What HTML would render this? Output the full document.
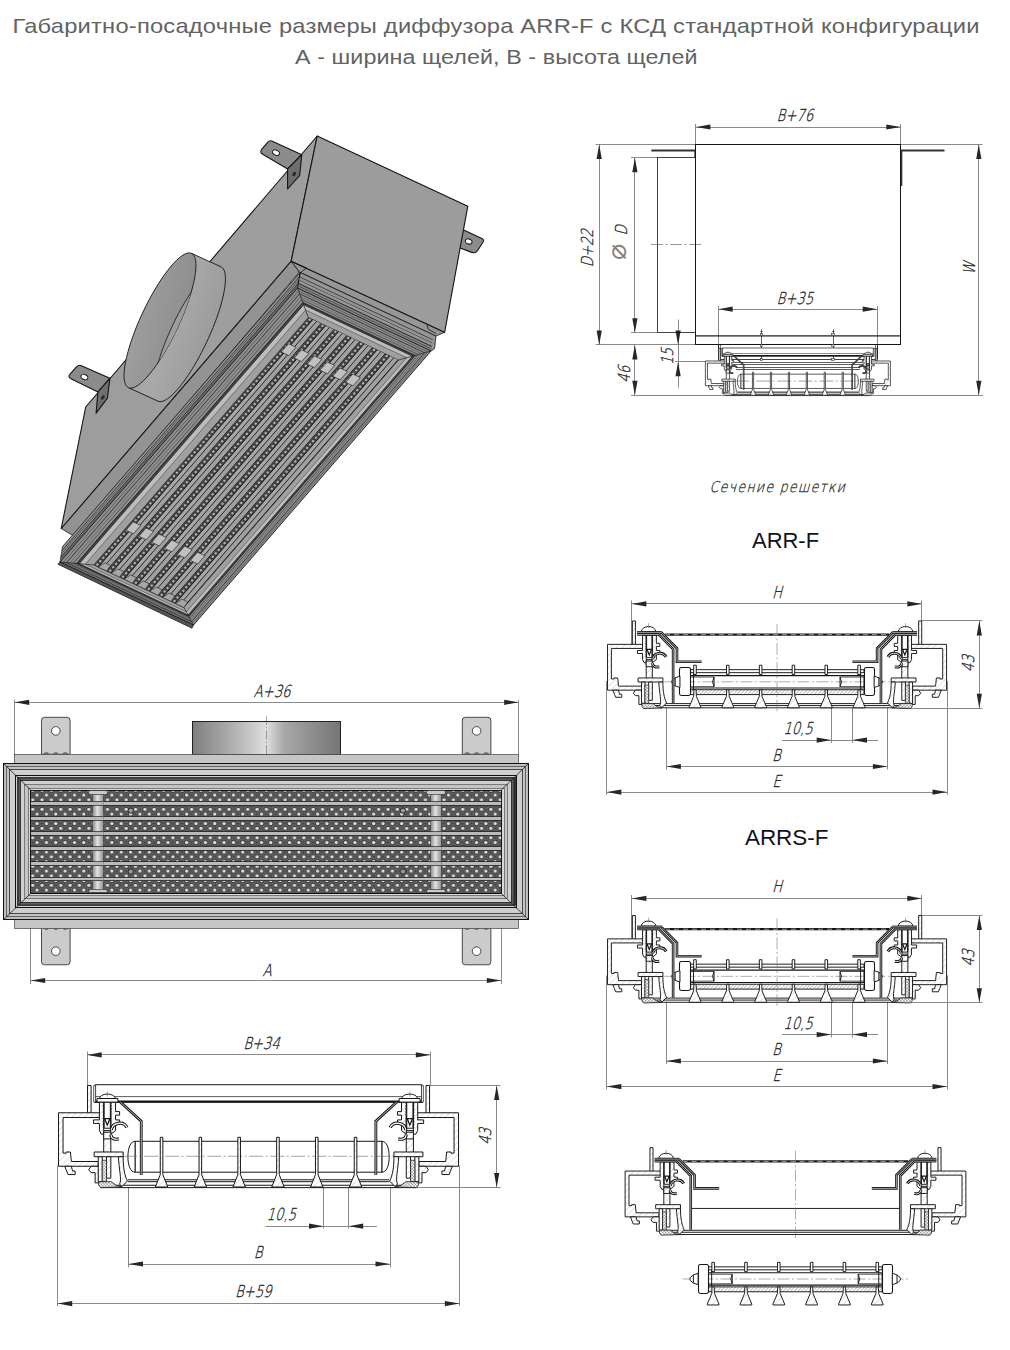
<!DOCTYPE html>
<html lang="ru"><head><meta charset="utf-8"><title>ARR-F</title>
<style>
html,body{margin:0;padding:0;background:#fff}
body{width:1010px;height:1350px;overflow:hidden;position:relative;font-family:"Liberation Sans",sans-serif}
svg{position:absolute;left:0;top:0;display:block}
.t{font-family:"Liberation Sans",sans-serif;fill:#636363}
.h{font-family:"Liberation Sans",sans-serif;fill:#12121c}
.g{font-family:"DejaVu Sans Light","DejaVu Sans","Liberation Sans",sans-serif;font-weight:200}
</style></head><body>
<svg width="1010" height="1350" viewBox="0 0 1010 1350">
<text class="t" transform="translate(12.5 33) scale(1.13 1)" font-size="21" textLength="855.8" lengthAdjust="spacing">Габаритно-посадочные размеры диффузора ARR-F с КСД стандартной конфигурации</text>
<text class="t" transform="translate(295 64) scale(1.11 1)" font-size="21" textLength="362.6" lengthAdjust="spacing">А - ширина щелей, В - высота щелей</text>
<g id="iso" stroke-linejoin="round">
<path d="M262.74 154.24 Q259.3 152.2 261.88 149.14 L267.66 142.29 Q269.6 140 272.33 141.25 L301.8 154.7 L287.6 169 Z" fill="#8b8b8b" stroke="#141414" stroke-width="1.1" />
<ellipse cx="276" cy="152.7" rx="3.6" ry="2.5" transform="rotate(25 276 152.7)" fill="#fff" stroke="#141414" stroke-width="0.9"/>
<path d="M70.99 378.77 Q67.4 377 70.08 374.03 L76.69 366.73 Q78.7 364.5 81.44 365.71 L109.9 378.3 L97.9 392 Z" fill="#8b8b8b" stroke="#141414" stroke-width="1.1" />
<ellipse cx="84.4" cy="377" rx="3.6" ry="2.5" transform="rotate(25 84.4 377)" fill="#fff" stroke="#141414" stroke-width="0.9"/>
<path d="M462.7 229.4 L481.79 238.42 Q484.5 239.7 482.89 242.23 L477.65 250.43 Q475.5 253.8 471.76 252.37 L458.8 247.4 Z" fill="#8b8b8b" stroke="#141414" stroke-width="1.1" />
<ellipse cx="468.7" cy="241.5" rx="3.4" ry="2.4" transform="rotate(22 468.7 241.5)" fill="#fff" stroke="#141414" stroke-width="0.9"/>
<polygon points="61.2,528.5 291.2,261.2 299.4,272 73.7,536" fill="#939393" stroke="#141414" stroke-width="0.8" />
<polygon points="291.2,261.2 444.6,332.3 435.9,336.1 299.4,272" fill="#969696" stroke="#141414" stroke-width="0.8" />
<defs><linearGradient id="gs" x1="0" y1="0" x2="1" y2="1"><stop offset="0" stop-color="#9a9a9a"/><stop offset="1" stop-color="#a1a1a1"/></linearGradient></defs>
<polygon points="317.2,136 85.7,407 61.2,528.5 291.2,261.2" fill="url(#gs)" stroke="#141414" stroke-width="1.1" />
<polygon points="317.2,136 467.8,206.2 444.6,332.3 291.2,261.2" fill="#9c9c9c" stroke="#141414" stroke-width="1.1" />
<polygon points="301.8,154.7 299.7,175.3 287.6,189 287.6,168.9" fill="#6e6e6e" stroke="#141414" stroke-width="1.1" />
<ellipse cx="294.18" cy="173.97" rx="1.6" ry="2.4" transform="rotate(35 294.18 173.97)" fill="#2a2a2a"/>
<polygon points="109.9,378.3 107.4,398.2 96.1,413.2 97.9,392" fill="#6e6e6e" stroke="#141414" stroke-width="1.1" />
<ellipse cx="102.83" cy="397.43" rx="1.6" ry="2.4" transform="rotate(35 102.83 397.43)" fill="#2a2a2a"/>
<polyline points="291.2,261.2 306.5,268 300.5,272.5" fill="none" stroke="#141414" stroke-width="0.8" />
<polyline points="427,324.9 428.5,329.5 436,333.5" fill="none" stroke="#141414" stroke-width="0.8" />
<defs><linearGradient id="gd" x1="0" y1="0" x2="1" y2="0.5"><stop offset="0" stop-color="#8f8f8f"/><stop offset="0.55" stop-color="#a9a9a9"/><stop offset="1" stop-color="#999"/></linearGradient><linearGradient id="gi" x1="0" y1="0" x2="1" y2="0.4"><stop offset="0" stop-color="#a4a4a4"/><stop offset="1" stop-color="#8d8d8d"/></linearGradient><clipPath id="cf"><polygon points="171.35,265.9 169.55,268.06 167.72,270.37 165.88,272.81 164.01,275.39 162.14,278.09 160.26,280.9 158.38,283.83 156.5,286.85 154.63,289.97 152.78,293.17 150.95,296.44 149.14,299.78 147.36,303.18 145.62,306.62 143.91,310.11 142.25,313.62 140.64,317.15 139.08,320.69 137.58,324.23 136.14,327.75 134.77,331.26 133.46,334.74 132.23,338.18 131.08,341.57 130,344.91 129,348.18 128.1,351.37 127.27,354.47 126.54,357.49 125.9,360.4 125.35,363.2 124.9,365.89 124.54,368.45 124.29,370.88 124.12,373.17 124.06,375.32 124.1,377.32 124.23,379.16 124.46,380.84 124.79,382.35 125.22,383.7 125.74,384.87 126.36,385.87 127.06,386.69 127.86,387.32 128.75,387.77 129.72,388.04 130.77,388.12 131.91,388.02 133.12,387.73 134.41,387.26 135.76,386.61 137.18,385.77 138.67,384.76 140.21,383.57 141.81,382.2 143.46,380.67 145.15,378.97 146.88,377.11 148.65,375.1 150.45,372.94 152.28,370.63 154.12,368.19 155.99,365.61 157.86,362.91 159.74,360.1 161.62,357.17 163.5,354.15 165.37,351.03 167.22,347.83 169.05,344.56 170.86,341.22 172.64,337.82 174.38,334.38 176.09,330.89 177.75,327.38 179.36,323.85 180.92,320.31 182.42,316.77 183.86,313.25 185.23,309.74 186.54,306.26 187.77,302.82 188.92,299.43 190,296.09 191,292.82 191.9,289.63 192.73,286.53 193.46,283.51 194.1,280.6 194.65,277.8 195.1,275.11 195.46,272.55 195.71,270.12 195.88,267.83 195.94,265.68 195.9,263.68 195.77,261.84 195.54,260.16 195.21,258.65 194.78,257.3 194.26,256.13 193.64,255.13 192.94,254.31 192.14,253.68 191.25,253.23 190.28,252.96 189.23,252.88 188.09,252.98 186.88,253.27 185.59,253.74 184.24,254.39 182.82,255.23 181.33,256.24 179.79,257.43 178.19,258.8 176.54,260.33 174.85,262.03 173.12,263.89 171.35,265.9"/></clipPath></defs>
<polygon points="158,401.17 158.95,401.49 159.98,401.62 161.1,401.57 162.29,401.33 163.56,400.91 164.89,400.3 166.3,399.51 167.77,398.55 169.29,397.4 170.88,396.08 172.51,394.59 174.19,392.94 175.92,391.12 177.67,389.15 179.47,387.03 181.29,384.76 183.13,382.35 184.99,379.81 186.86,377.14 188.74,374.36 190.62,371.46 192.5,368.47 194.37,365.37 196.23,362.2 198.07,358.94 199.88,355.62 201.67,352.23 203.42,348.8 205.14,345.33 206.81,341.82 208.43,338.3 210.01,334.76 211.52,331.22 212.98,327.69 214.37,324.17 215.69,320.68 216.95,317.23 218.12,313.82 219.22,310.47 220.24,307.19 221.17,303.98 222.02,300.85 222.77,297.81 223.44,294.87 224.01,292.03 224.49,289.32 224.87,286.72 225.16,284.25 225.34,281.93 225.43,279.74 225.42,277.7 225.31,275.82 225.11,274.09 224.8,272.53 224.4,271.14 223.91,269.92 223.32,268.88 222.63,268.01 221.86,267.33 221,266.83 191.5,253.33 190.55,253.01 189.52,252.88 188.4,252.93 187.21,253.17 185.94,253.59 184.61,254.2 183.2,254.99 181.73,255.95 180.21,257.1 178.62,258.42 176.99,259.91 175.31,261.56 173.58,263.38 171.83,265.35 170.03,267.47 168.21,269.74 166.37,272.15 164.51,274.69 162.64,277.36 160.76,280.14 158.88,283.04 157,286.03 155.13,289.13 153.27,292.3 151.43,295.56 149.62,298.88 147.83,302.27 146.08,305.7 144.36,309.17 142.69,312.68 141.07,316.2 139.49,319.74 137.98,323.28 136.52,326.81 135.13,330.33 133.81,333.82 132.55,337.27 131.38,340.68 130.28,344.03 129.26,347.31 128.33,350.52 127.48,353.65 126.73,356.69 126.06,359.63 125.49,362.47 125.01,365.18 124.63,367.78 124.34,370.25 124.16,372.57 124.07,374.76 124.08,376.8 124.19,378.68 124.39,380.41 124.7,381.97 125.1,383.36 125.59,384.58 126.18,385.62 126.87,386.49 127.64,387.17 128.5,387.67" fill="url(#gd)" stroke="none" stroke-width="0" />
<polyline points="158,401.17 158.95,401.49 159.98,401.62 161.1,401.57 162.29,401.33 163.56,400.91 164.89,400.3 166.3,399.51 167.77,398.55 169.29,397.4 170.88,396.08 172.51,394.59 174.19,392.94 175.92,391.12 177.67,389.15 179.47,387.03 181.29,384.76 183.13,382.35 184.99,379.81 186.86,377.14 188.74,374.36 190.62,371.46 192.5,368.47 194.37,365.37 196.23,362.2 198.07,358.94 199.88,355.62 201.67,352.23 203.42,348.8 205.14,345.33 206.81,341.82 208.43,338.3 210.01,334.76 211.52,331.22 212.98,327.69 214.37,324.17 215.69,320.68 216.95,317.23 218.12,313.82 219.22,310.47 220.24,307.19 221.17,303.98 222.02,300.85 222.77,297.81 223.44,294.87 224.01,292.03 224.49,289.32 224.87,286.72 225.16,284.25 225.34,281.93 225.43,279.74 225.42,277.7 225.31,275.82 225.11,274.09 224.8,272.53 224.4,271.14 223.91,269.92 223.32,268.88 222.63,268.01 221.86,267.33 221,266.83" fill="none" stroke="#141414" stroke-width="0.9" />
<line x1="128.5" y1="387.67" x2="158" y2="401.17" stroke="#141414" stroke-width="0.9" />
<line x1="191.5" y1="253.33" x2="221" y2="266.83" stroke="#141414" stroke-width="0.9" />
<polygon points="171.35,265.9 169.55,268.06 167.72,270.37 165.88,272.81 164.01,275.39 162.14,278.09 160.26,280.9 158.38,283.83 156.5,286.85 154.63,289.97 152.78,293.17 150.95,296.44 149.14,299.78 147.36,303.18 145.62,306.62 143.91,310.11 142.25,313.62 140.64,317.15 139.08,320.69 137.58,324.23 136.14,327.75 134.77,331.26 133.46,334.74 132.23,338.18 131.08,341.57 130,344.91 129,348.18 128.1,351.37 127.27,354.47 126.54,357.49 125.9,360.4 125.35,363.2 124.9,365.89 124.54,368.45 124.29,370.88 124.12,373.17 124.06,375.32 124.1,377.32 124.23,379.16 124.46,380.84 124.79,382.35 125.22,383.7 125.74,384.87 126.36,385.87 127.06,386.69 127.86,387.32 128.75,387.77 129.72,388.04 130.77,388.12 131.91,388.02 133.12,387.73 134.41,387.26 135.76,386.61 137.18,385.77 138.67,384.76 140.21,383.57 141.81,382.2 143.46,380.67 145.15,378.97 146.88,377.11 148.65,375.1 150.45,372.94 152.28,370.63 154.12,368.19 155.99,365.61 157.86,362.91 159.74,360.1 161.62,357.17 163.5,354.15 165.37,351.03 167.22,347.83 169.05,344.56 170.86,341.22 172.64,337.82 174.38,334.38 176.09,330.89 177.75,327.38 179.36,323.85 180.92,320.31 182.42,316.77 183.86,313.25 185.23,309.74 186.54,306.26 187.77,302.82 188.92,299.43 190,296.09 191,292.82 191.9,289.63 192.73,286.53 193.46,283.51 194.1,280.6 194.65,277.8 195.1,275.11 195.46,272.55 195.71,270.12 195.88,267.83 195.94,265.68 195.9,263.68 195.77,261.84 195.54,260.16 195.21,258.65 194.78,257.3 194.26,256.13 193.64,255.13 192.94,254.31 192.14,253.68 191.25,253.23 190.28,252.96 189.23,252.88 188.09,252.98 186.88,253.27 185.59,253.74 184.24,254.39 182.82,255.23 181.33,256.24 179.79,257.43 178.19,258.8 176.54,260.33 174.85,262.03 173.12,263.89 171.35,265.9" fill="url(#gi)" stroke="#141414" stroke-width="0.9" />
<polygon points="200.85,279.4 199.05,281.56 197.22,283.87 195.38,286.31 193.51,288.89 191.64,291.59 189.76,294.4 187.88,297.33 186,300.35 184.13,303.47 182.28,306.67 180.45,309.94 178.64,313.28 176.86,316.68 175.12,320.12 173.41,323.61 171.75,327.12 170.14,330.65 168.58,334.19 167.08,337.73 165.64,341.25 164.27,344.76 162.96,348.24 161.73,351.68 160.58,355.07 159.5,358.41 158.5,361.68 157.6,364.87 156.77,367.97 156.04,370.99 155.4,373.9 154.85,376.7 154.4,379.39 154.04,381.95 153.79,384.38 153.62,386.67 153.56,388.82 153.6,390.82 153.73,392.66 153.96,394.34 154.29,395.85 154.72,397.2 155.24,398.37 155.86,399.37 156.56,400.19 157.36,400.82 158.25,401.27 159.22,401.54 160.27,401.62 161.41,401.52 162.62,401.23 163.91,400.76 165.26,400.11 166.68,399.27 168.17,398.26 169.71,397.07 171.31,395.7 172.96,394.17 174.65,392.47 176.38,390.61 178.15,388.6 179.95,386.44 181.78,384.13 183.62,381.69 185.49,379.11 187.36,376.41 189.24,373.6 191.12,370.67 193,367.65 194.87,364.53 196.72,361.33 198.55,358.06 200.36,354.72 202.14,351.32 203.88,347.88 205.59,344.39 207.25,340.88 208.86,337.35 210.42,333.81 211.92,330.27 213.36,326.75 214.73,323.24 216.04,319.76 217.27,316.32 218.42,312.93 219.5,309.59 220.5,306.32 221.4,303.13 222.23,300.03 222.96,297.01 223.6,294.1 224.15,291.3 224.6,288.61 224.96,286.05 225.21,283.62 225.38,281.33 225.44,279.18 225.4,277.18 225.27,275.34 225.04,273.66 224.71,272.15 224.28,270.8 223.76,269.63 223.14,268.63 222.44,267.81 221.64,267.18 220.75,266.73 219.78,266.46 218.73,266.38 217.59,266.48 216.38,266.77 215.09,267.24 213.74,267.89 212.32,268.73 210.83,269.74 209.29,270.93 207.69,272.3 206.04,273.83 204.35,275.53 202.62,277.39 200.85,279.4" fill="#9d9d9d" stroke="#141414" stroke-width="0.8" clip-path="url(#cf)"/>
<polygon points="297.5,288 431,351 434.6,348.6 435.9,336.1 300.1,272.5" fill="#969696" stroke="#141414" stroke-width="0.8" />
<polygon points="60,562 297.5,288 300.1,272.5 62.6,546.5" fill="#939393" stroke="#141414" stroke-width="0.8" />
<polygon points="299.37,276.84 432.87,339.84 432.35,342.94 298.85,279.94" fill="#a9a9a9" stroke="none" stroke-width="0" />
<polygon points="61.87,550.84 299.37,276.84 298.85,279.94 61.35,553.94" fill="#a6a6a6" stroke="none" stroke-width="0" />
<polygon points="298.28,283.35 431.78,346.35 431,351 297.5,288" fill="#868686" stroke="none" stroke-width="0" />
<polygon points="60.78,557.35 298.28,283.35 297.5,288 60,562" fill="#848484" stroke="none" stroke-width="0" />
<line x1="61.87" y1="550.84" x2="299.37" y2="276.84" stroke="#222" stroke-width="0.8" />
<line x1="299.37" y1="276.84" x2="432.87" y2="339.84" stroke="#222" stroke-width="0.8" />
<line x1="61.61" y1="552.39" x2="299.11" y2="278.39" stroke="#6a6a6a" stroke-width="0.5" />
<line x1="299.11" y1="278.39" x2="432.61" y2="341.39" stroke="#6a6a6a" stroke-width="0.5" />
<line x1="61.35" y1="553.94" x2="298.85" y2="279.94" stroke="#333" stroke-width="0.7" />
<line x1="298.85" y1="279.94" x2="432.35" y2="342.94" stroke="#333" stroke-width="0.7" />
<line x1="60.78" y1="557.35" x2="298.28" y2="283.35" stroke="#1c1c1c" stroke-width="0.9" />
<line x1="298.28" y1="283.35" x2="431.78" y2="346.35" stroke="#1c1c1c" stroke-width="0.9" />
<line x1="60.36" y1="559.83" x2="297.86" y2="285.83" stroke="#3c3c3c" stroke-width="0.7" />
<line x1="297.86" y1="285.83" x2="431.36" y2="348.83" stroke="#3c3c3c" stroke-width="0.7" />
<line x1="297.5" y1="288" x2="300.1" y2="272.5" stroke="#141414" stroke-width="0.8" />
<polygon points="297.5,288 431,351 193.5,625 60,562" fill="#8e8e8e" stroke="#141414" stroke-width="0.9" />
<polygon points="60,562 193.5,625 192,628.2 57.8,564.2" fill="#555" stroke="#141414" stroke-width="0.7" />
<polygon points="298.57,290.9 427.8,351.89 192.56,623.28 63.33,562.29" fill="none" stroke="#4a4a4a" stroke-width="0.7" />
<polygon points="299.63,293.8 424.6,352.77 191.62,621.56 66.65,562.59" fill="none" stroke="#2e2e2e" stroke-width="0.9" />
<polygon points="300.7,296.7 421.4,353.66 190.67,619.84 69.98,562.88" fill="none" stroke="#555" stroke-width="0.6" />
<polygon points="301.77,299.6 418.19,354.55 189.73,618.12 73.3,563.18" fill="none" stroke="#3a3a3a" stroke-width="0.7" />
<polygon points="302.83,302.5 414.99,355.43 188.79,616.4 76.63,563.47" fill="#444" stroke="#141414" stroke-width="0.8" />
<polygon points="303.69,304.82 412.43,356.14 188.04,615.02 79.29,563.7" fill="#bcbcbc" stroke="#222" stroke-width="0.7" />
<polygon points="305.61,310.04 406.67,357.74 186.34,611.93 85.28,564.23" fill="#a0a0a0" stroke="#444" stroke-width="0.6" />
<polygon points="308.38,317.58 398.35,360.04 183.89,607.45 93.92,565" fill="#7d7d7d" stroke="#1c1c1c" stroke-width="0.8" />
<line x1="297.5" y1="288" x2="308.38" y2="317.58" stroke="#222" stroke-width="0.7" />
<line x1="431" y1="351" x2="398.35" y2="360.04" stroke="#222" stroke-width="0.7" />
<line x1="193.5" y1="625" x2="183.89" y2="607.45" stroke="#222" stroke-width="0.7" />
<line x1="60" y1="562" x2="93.92" y2="565" stroke="#222" stroke-width="0.7" />
<polygon points="308.38,317.58 312.75,319.65 98.29,567.06 93.92,565" fill="#414141" stroke="none" stroke-width="0" />
<line x1="309.66" y1="319.66" x2="97.01" y2="564.99" stroke="#b4b4b4" stroke-width="2.3" stroke-dasharray="0.1 4.4" stroke-linecap="round"/>
<polygon points="312.75,319.65 316.48,321.41 102.02,568.82 98.29,567.06" fill="#a7a7a7" stroke="none" stroke-width="0" />
<polygon points="316.48,321.41 321.23,323.65 106.78,571.06 102.02,568.82" fill="#a0a0a0" stroke="none" stroke-width="0" />
<line x1="312.75" y1="319.65" x2="98.29" y2="567.06" stroke="#141414" stroke-width="0.95" />
<line x1="316.48" y1="321.41" x2="102.02" y2="568.82" stroke="#141414" stroke-width="0.85" />
<line x1="320.89" y1="323.49" x2="106.44" y2="570.9" stroke="#141414" stroke-width="0.95" />
<polygon points="321.23,323.65 325.6,325.71 111.15,573.13 106.78,571.06" fill="#414141" stroke="none" stroke-width="0" />
<line x1="322.51" y1="325.72" x2="109.87" y2="571.05" stroke="#b4b4b4" stroke-width="2.3" stroke-dasharray="0.1 4.4" stroke-linecap="round"/>
<polygon points="325.6,325.71 329.33,327.47 114.87,574.88 111.15,573.13" fill="#a7a7a7" stroke="none" stroke-width="0" />
<polygon points="329.33,327.47 334.08,329.71 119.63,577.13 114.87,574.88" fill="#a0a0a0" stroke="none" stroke-width="0" />
<line x1="325.6" y1="325.71" x2="111.15" y2="573.13" stroke="#141414" stroke-width="0.95" />
<line x1="329.33" y1="327.47" x2="114.87" y2="574.88" stroke="#141414" stroke-width="0.85" />
<line x1="333.74" y1="329.55" x2="119.29" y2="576.97" stroke="#141414" stroke-width="0.95" />
<polygon points="334.08,329.71 338.45,331.78 124,579.19 119.63,577.13" fill="#414141" stroke="none" stroke-width="0" />
<line x1="335.37" y1="331.79" x2="122.72" y2="577.12" stroke="#b4b4b4" stroke-width="2.3" stroke-dasharray="0.1 4.4" stroke-linecap="round"/>
<polygon points="338.45,331.78 342.18,333.54 127.73,580.95 124,579.19" fill="#a7a7a7" stroke="none" stroke-width="0" />
<polygon points="342.18,333.54 346.94,335.78 132.48,583.19 127.73,580.95" fill="#a0a0a0" stroke="none" stroke-width="0" />
<line x1="338.45" y1="331.78" x2="124" y2="579.19" stroke="#141414" stroke-width="0.95" />
<line x1="342.18" y1="333.54" x2="127.73" y2="580.95" stroke="#141414" stroke-width="0.85" />
<line x1="346.6" y1="335.62" x2="132.14" y2="583.03" stroke="#141414" stroke-width="0.95" />
<polygon points="346.94,335.78 351.31,337.84 136.85,585.26 132.48,583.19" fill="#414141" stroke="none" stroke-width="0" />
<line x1="348.22" y1="337.85" x2="135.57" y2="583.18" stroke="#b4b4b4" stroke-width="2.3" stroke-dasharray="0.1 4.4" stroke-linecap="round"/>
<polygon points="351.31,337.84 355.03,339.6 140.58,587.01 136.85,585.26" fill="#a7a7a7" stroke="none" stroke-width="0" />
<polygon points="355.03,339.6 359.79,341.85 145.33,589.26 140.58,587.01" fill="#a0a0a0" stroke="none" stroke-width="0" />
<line x1="351.31" y1="337.84" x2="136.85" y2="585.26" stroke="#141414" stroke-width="0.95" />
<line x1="355.03" y1="339.6" x2="140.58" y2="587.01" stroke="#141414" stroke-width="0.85" />
<line x1="359.45" y1="341.68" x2="144.99" y2="589.1" stroke="#141414" stroke-width="0.95" />
<polygon points="359.79,341.85 364.16,343.91 149.7,591.32 145.33,589.26" fill="#414141" stroke="none" stroke-width="0" />
<line x1="361.07" y1="343.92" x2="148.42" y2="589.25" stroke="#b4b4b4" stroke-width="2.3" stroke-dasharray="0.1 4.4" stroke-linecap="round"/>
<polygon points="364.16,343.91 367.89,345.67 153.43,593.08 149.7,591.32" fill="#a7a7a7" stroke="none" stroke-width="0" />
<polygon points="367.89,345.67 372.64,347.91 158.19,595.32 153.43,593.08" fill="#a0a0a0" stroke="none" stroke-width="0" />
<line x1="364.16" y1="343.91" x2="149.7" y2="591.32" stroke="#141414" stroke-width="0.95" />
<line x1="367.89" y1="345.67" x2="153.43" y2="593.08" stroke="#141414" stroke-width="0.85" />
<line x1="372.3" y1="347.75" x2="157.85" y2="595.16" stroke="#141414" stroke-width="0.95" />
<polygon points="372.64,347.91 377.01,349.97 162.56,597.39 158.19,595.32" fill="#414141" stroke="none" stroke-width="0" />
<line x1="373.92" y1="349.98" x2="161.28" y2="595.31" stroke="#b4b4b4" stroke-width="2.3" stroke-dasharray="0.1 4.4" stroke-linecap="round"/>
<polygon points="377.01,349.97 380.74,351.73 166.28,599.14 162.56,597.39" fill="#a7a7a7" stroke="none" stroke-width="0" />
<polygon points="380.74,351.73 385.49,353.98 171.04,601.39 166.28,599.14" fill="#a0a0a0" stroke="none" stroke-width="0" />
<line x1="377.01" y1="349.97" x2="162.56" y2="597.39" stroke="#141414" stroke-width="0.95" />
<line x1="380.74" y1="351.73" x2="166.28" y2="599.14" stroke="#141414" stroke-width="0.85" />
<line x1="385.15" y1="353.81" x2="170.7" y2="601.23" stroke="#141414" stroke-width="0.95" />
<polygon points="385.49,353.98 389.86,356.04 175.41,603.45 171.04,601.39" fill="#414141" stroke="none" stroke-width="0" />
<line x1="386.78" y1="356.05" x2="174.13" y2="601.38" stroke="#b4b4b4" stroke-width="2.3" stroke-dasharray="0.1 4.4" stroke-linecap="round"/>
<polygon points="389.86,356.04 393.59,357.8 179.14,605.21 175.41,603.45" fill="#a7a7a7" stroke="none" stroke-width="0" />
<polygon points="393.59,357.8 398.35,360.04 183.89,607.45 179.14,605.21" fill="#a0a0a0" stroke="none" stroke-width="0" />
<line x1="389.86" y1="356.04" x2="175.41" y2="603.45" stroke="#141414" stroke-width="0.95" />
<line x1="393.59" y1="357.8" x2="179.14" y2="605.21" stroke="#141414" stroke-width="0.85" />
<line x1="398.01" y1="359.88" x2="183.55" y2="607.29" stroke="#141414" stroke-width="0.95" />
<polygon points="288.55,343.69 296.04,347.23 288.81,355.57 281.32,352.03" fill="#c0c0c0" stroke="#2a2a2a" stroke-width="0.7" />
<polygon points="301.4,349.76 308.89,353.29 301.66,361.63 294.17,358.1" fill="#c0c0c0" stroke="#2a2a2a" stroke-width="0.7" />
<polygon points="314.26,355.82 321.75,359.36 314.52,367.7 307.03,364.17" fill="#c0c0c0" stroke="#2a2a2a" stroke-width="0.7" />
<polygon points="327.11,361.89 334.6,365.42 327.37,373.77 319.88,370.23" fill="#c0c0c0" stroke="#2a2a2a" stroke-width="0.7" />
<polygon points="339.96,367.95 347.45,371.49 340.22,379.83 332.73,376.3" fill="#c0c0c0" stroke="#2a2a2a" stroke-width="0.7" />
<polygon points="352.81,374.02 360.3,377.55 353.07,385.9 345.58,382.36" fill="#c0c0c0" stroke="#2a2a2a" stroke-width="0.7" />
<polygon points="133.22,521.85 140.72,525.39 133.49,533.73 125.99,530.19" fill="#c0c0c0" stroke="#2a2a2a" stroke-width="0.7" />
<polygon points="146.08,527.92 153.57,531.45 146.34,539.79 138.85,536.26" fill="#c0c0c0" stroke="#2a2a2a" stroke-width="0.7" />
<polygon points="158.93,533.98 166.42,537.52 159.19,545.86 151.7,542.32" fill="#c0c0c0" stroke="#2a2a2a" stroke-width="0.7" />
<polygon points="171.78,540.05 179.27,543.58 172.04,551.93 164.55,548.39" fill="#c0c0c0" stroke="#2a2a2a" stroke-width="0.7" />
<polygon points="184.63,546.11 192.13,549.65 184.9,557.99 177.4,554.46" fill="#c0c0c0" stroke="#2a2a2a" stroke-width="0.7" />
<polygon points="197.49,552.18 204.98,555.71 197.75,564.06 190.26,560.52" fill="#c0c0c0" stroke="#2a2a2a" stroke-width="0.7" />
<polygon points="98.29,567.06 106.78,571.06 110.65,565.55 104.87,562.82" fill="#a6a6a6" stroke="#222" stroke-width="0.6" />
<polygon points="111.15,573.13 119.63,577.13 123.51,571.61 117.72,568.88" fill="#a6a6a6" stroke="#222" stroke-width="0.6" />
<polygon points="124,579.19 132.48,583.19 136.36,577.68 130.57,574.95" fill="#a6a6a6" stroke="#222" stroke-width="0.6" />
<polygon points="136.85,585.26 145.33,589.26 149.21,583.74 143.43,581.01" fill="#a6a6a6" stroke="#222" stroke-width="0.6" />
<polygon points="149.7,591.32 158.19,595.32 162.06,589.81 156.28,587.08" fill="#a6a6a6" stroke="#222" stroke-width="0.6" />
<polygon points="162.56,597.39 171.04,601.39 174.92,595.87 169.13,593.14" fill="#a6a6a6" stroke="#222" stroke-width="0.6" />
<polygon points="175.41,603.45 183.89,607.45 187.77,601.94 181.98,599.21" fill="#a6a6a6" stroke="#222" stroke-width="0.6" />
</g>
<g id="front">
<defs><linearGradient id="fd" x1="0" y1="0" x2="1" y2="0"><stop offset="0" stop-color="#7e7e7e"/><stop offset="0.3" stop-color="#b5b5b5"/><stop offset="0.5" stop-color="#dedede"/><stop offset="0.62" stop-color="#a8a8a8"/><stop offset="1" stop-color="#747474"/></linearGradient><linearGradient id="fr" x1="0" y1="0" x2="1" y2="0"><stop offset="0" stop-color="#8a8a8a"/><stop offset="0.45" stop-color="#e2e2e2"/><stop offset="1" stop-color="#909090"/></linearGradient><pattern id="perf" x="28" y="792.72" width="9.35" height="9.5" patternUnits="userSpaceOnUse"><rect x="0" y="0" width="9.35" height="9.5" fill="#616161"/><circle cx="9.1" cy="2.375" r="2.2" fill="#dcdcdc" stroke="#1c1c1c" stroke-width="0.85"/><circle cx="-0.25" cy="2.375" r="2.2" fill="#dcdcdc" stroke="#1c1c1c" stroke-width="0.85"/><circle cx="4.7" cy="7.125" r="2.2" fill="#dcdcdc" stroke="#1c1c1c" stroke-width="0.85"/><circle cx="4.4" cy="2.375" r="0.9" fill="#3c3c3c"/><circle cx="0" cy="7.125" r="0.9" fill="#3c3c3c"/><circle cx="9.35" cy="7.125" r="0.9" fill="#3c3c3c"/></pattern></defs>
<line x1="14.5" y1="700" x2="14.5" y2="757" stroke="#8a8a8a" stroke-width="1" />
<line x1="518.5" y1="700" x2="518.5" y2="757" stroke="#8a8a8a" stroke-width="1" />
<line x1="14.7" y1="702.5" x2="518.7" y2="702.5" stroke="#8a8a8a" stroke-width="1" />
<polygon points="14.7,702.3 29.2,699.7 29.2,704.9" fill="#262626"/>
<polygon points="518.7,702.3 504.2,704.9 504.2,699.7" fill="#262626"/>
<text transform="translate(272 697) rotate(0) skewX(-15) scale(0.8 1)" font-size="16.5" text-anchor="middle" fill="#242424" letter-spacing="0" stroke="#242424" stroke-width="0.3" class="g">A+36</text>
<line x1="30.5" y1="893" x2="30.5" y2="984" stroke="#8a8a8a" stroke-width="1" />
<line x1="501.5" y1="893" x2="501.5" y2="984" stroke="#8a8a8a" stroke-width="1" />
<line x1="30.7" y1="980.5" x2="501.3" y2="980.5" stroke="#8a8a8a" stroke-width="1" />
<polygon points="30.7,980.5 45.2,977.9 45.2,983.1" fill="#262626"/>
<polygon points="501.3,980.5 486.8,983.1 486.8,977.9" fill="#262626"/>
<text transform="translate(267 975.5) rotate(0) skewX(-15) scale(0.8 1)" font-size="16.5" text-anchor="middle" fill="#242424" letter-spacing="0" stroke="#242424" stroke-width="0.3" class="g">A</text>
<path d="M41.5 754.3 v-34 a3 3 0 0 1 3 -3 h22.6 a3 3 0 0 1 3 3 v34 z" fill="#cbcbcb" stroke="#222" stroke-width="0.8" />
<circle cx="55.8" cy="730.9" r="4.3" fill="#fff" stroke="#222" stroke-width="0.8"/>
<path d="M44.06 754.3 a2.3 1.6 0 0 1 4.6 0" fill="#888" stroke="#222" stroke-width="0.6"/>
<path d="M53.5 754.3 a2.3 1.6 0 0 1 4.6 0" fill="#888" stroke="#222" stroke-width="0.6"/>
<path d="M62.94 754.3 a2.3 1.6 0 0 1 4.6 0" fill="#888" stroke="#222" stroke-width="0.6"/>
<path d="M462.3 754.3 v-34 a3 3 0 0 1 3 -3 h22.6 a3 3 0 0 1 3 3 v34 z" fill="#cbcbcb" stroke="#222" stroke-width="0.8" />
<circle cx="476.6" cy="730.9" r="4.3" fill="#fff" stroke="#222" stroke-width="0.8"/>
<path d="M464.86 754.3 a2.3 1.6 0 0 1 4.6 0" fill="#888" stroke="#222" stroke-width="0.6"/>
<path d="M474.3 754.3 a2.3 1.6 0 0 1 4.6 0" fill="#888" stroke="#222" stroke-width="0.6"/>
<path d="M483.74 754.3 a2.3 1.6 0 0 1 4.6 0" fill="#888" stroke="#222" stroke-width="0.6"/>
<path d="M41.5 927.8 v34 a3 3 0 0 0 3 3 h22.6 a3 3 0 0 0 3 -3 v-34 z" fill="#cbcbcb" stroke="#222" stroke-width="0.8" />
<circle cx="55.8" cy="951.2" r="4.3" fill="#fff" stroke="#222" stroke-width="0.8"/>
<path d="M44.06 927.8 a2.3 1.6 0 0 0 4.6 0" fill="#888" stroke="#222" stroke-width="0.6"/>
<path d="M53.5 927.8 a2.3 1.6 0 0 0 4.6 0" fill="#888" stroke="#222" stroke-width="0.6"/>
<path d="M62.94 927.8 a2.3 1.6 0 0 0 4.6 0" fill="#888" stroke="#222" stroke-width="0.6"/>
<path d="M462.3 927.8 v34 a3 3 0 0 0 3 3 h22.6 a3 3 0 0 0 3 -3 v-34 z" fill="#cbcbcb" stroke="#222" stroke-width="0.8" />
<circle cx="476.6" cy="951.2" r="4.3" fill="#fff" stroke="#222" stroke-width="0.8"/>
<path d="M464.86 927.8 a2.3 1.6 0 0 0 4.6 0" fill="#888" stroke="#222" stroke-width="0.6"/>
<path d="M474.3 927.8 a2.3 1.6 0 0 0 4.6 0" fill="#888" stroke="#222" stroke-width="0.6"/>
<path d="M483.74 927.8 a2.3 1.6 0 0 0 4.6 0" fill="#888" stroke="#222" stroke-width="0.6"/>
<rect x="192.5" y="721.5" width="148" height="33" fill="url(#fd)" stroke="#222" stroke-width="1" />
<line x1="266.5" y1="716" x2="266.5" y2="760" stroke="#555" stroke-width="0.5" stroke-dasharray="9 2 1.5 2"/>
<rect x="14.5" y="754.5" width="504" height="9" fill="#c6c6c6" stroke="#444" stroke-width="0.7" />
<rect x="14.5" y="919.5" width="504" height="9" fill="#c6c6c6" stroke="#444" stroke-width="0.7" />
<rect x="3.5" y="763.5" width="525" height="156" fill="#bebebe" stroke="#111" stroke-width="1" />
<rect x="6.5" y="766.5" width="519" height="150" fill="#c3c3c3" stroke="#3a3a3a" stroke-width="0.7" />
<rect x="9.5" y="769.5" width="513" height="144" fill="#cecece" stroke="#2a2a2a" stroke-width="0.8" />
<rect x="15.5" y="775.5" width="501" height="132" fill="#d0d0d0" stroke="#111" stroke-width="1" />
<rect x="17.5" y="777.5" width="498" height="128" fill="#262626" stroke="#111" stroke-width="0.6" />
<rect x="18.6" y="778.5" width="495" height="126.1" fill="#5e5e5e" stroke="none" stroke-width="0" />
<rect x="20.5" y="780.5" width="491" height="122" fill="#d0d0d0" stroke="#1a1a1a" stroke-width="0.8" />
<rect x="24.5" y="784.5" width="483" height="114" fill="#c4c4c4" stroke="#444" stroke-width="0.6" />
<rect x="28.5" y="788.5" width="476" height="107" fill="#d8d8d8" stroke="#444" stroke-width="0.6" />
<line x1="3.4" y1="763.3" x2="30.7" y2="790" stroke="#1a1a1a" stroke-width="0.8" />
<line x1="528.8" y1="763.3" x2="501.3" y2="790" stroke="#1a1a1a" stroke-width="0.8" />
<line x1="3.4" y1="919.8" x2="30.7" y2="893.4" stroke="#1a1a1a" stroke-width="0.8" />
<line x1="528.8" y1="919.8" x2="501.3" y2="893.4" stroke="#1a1a1a" stroke-width="0.8" />
<rect x="30.5" y="790.5" width="471" height="103" fill="#b8b8b8" stroke="#111" stroke-width="0.8" />
<rect x="30.7" y="790" width="470.6" height="103.4" fill="url(#perf)" stroke="none" stroke-width="0" />
<rect x="30.7" y="801.3" width="470.6" height="3.85" fill="#bababa" stroke="none" stroke-width="0" />
<line x1="30.7" y1="801.5" x2="501.3" y2="801.5" stroke="#1c1c1c" stroke-width="0.8" />
<line x1="30.7" y1="805.5" x2="501.3" y2="805.5" stroke="#1c1c1c" stroke-width="0.8" />
<rect x="30.7" y="816.45" width="470.6" height="3.85" fill="#bababa" stroke="none" stroke-width="0" />
<line x1="30.7" y1="816.5" x2="501.3" y2="816.5" stroke="#1c1c1c" stroke-width="0.8" />
<line x1="30.7" y1="820.5" x2="501.3" y2="820.5" stroke="#1c1c1c" stroke-width="0.8" />
<rect x="30.7" y="831.6" width="470.6" height="3.85" fill="#bababa" stroke="none" stroke-width="0" />
<line x1="30.7" y1="831.5" x2="501.3" y2="831.5" stroke="#1c1c1c" stroke-width="0.8" />
<line x1="30.7" y1="835.5" x2="501.3" y2="835.5" stroke="#1c1c1c" stroke-width="0.8" />
<rect x="30.7" y="846.75" width="470.6" height="3.85" fill="#bababa" stroke="none" stroke-width="0" />
<line x1="30.7" y1="846.5" x2="501.3" y2="846.5" stroke="#1c1c1c" stroke-width="0.8" />
<line x1="30.7" y1="850.5" x2="501.3" y2="850.5" stroke="#1c1c1c" stroke-width="0.8" />
<rect x="30.7" y="861.9" width="470.6" height="3.85" fill="#bababa" stroke="none" stroke-width="0" />
<line x1="30.7" y1="861.5" x2="501.3" y2="861.5" stroke="#1c1c1c" stroke-width="0.8" />
<line x1="30.7" y1="865.5" x2="501.3" y2="865.5" stroke="#1c1c1c" stroke-width="0.8" />
<rect x="30.7" y="877.05" width="470.6" height="3.85" fill="#bababa" stroke="none" stroke-width="0" />
<line x1="30.7" y1="877.5" x2="501.3" y2="877.5" stroke="#1c1c1c" stroke-width="0.8" />
<line x1="30.7" y1="880.5" x2="501.3" y2="880.5" stroke="#1c1c1c" stroke-width="0.8" />
<rect x="30.5" y="790.5" width="471" height="103" fill="none" stroke="#111" stroke-width="0.9" />
<rect x="92.5" y="793.5" width="11" height="97" fill="url(#fr)" stroke="#333" stroke-width="0.6" />
<rect x="88.5" y="790.5" width="19" height="4" fill="#c9c9c9" stroke="#222" stroke-width="0.6" rx="1.8"/>
<rect x="88.5" y="889.5" width="19" height="3" fill="#c9c9c9" stroke="#222" stroke-width="0.6" rx="1.8"/>
<rect x="430.5" y="793.5" width="11" height="97" fill="url(#fr)" stroke="#333" stroke-width="0.6" />
<rect x="426.5" y="790.5" width="19" height="4" fill="#c9c9c9" stroke="#222" stroke-width="0.6" rx="1.8"/>
<rect x="426.5" y="889.5" width="19" height="3" fill="#c9c9c9" stroke="#222" stroke-width="0.6" rx="1.8"/>
<rect x="91.8" y="801.3" width="11.8" height="3.85" fill="#b8b8b8" stroke="none" stroke-width="0" />
<line x1="91.8" y1="801.5" x2="103.6" y2="801.5" stroke="#222" stroke-width="0.7" />
<line x1="91.8" y1="805.5" x2="103.6" y2="805.5" stroke="#222" stroke-width="0.7" />
<rect x="429.7" y="801.3" width="11.8" height="3.85" fill="#b8b8b8" stroke="none" stroke-width="0" />
<line x1="429.7" y1="801.5" x2="441.5" y2="801.5" stroke="#222" stroke-width="0.7" />
<line x1="429.7" y1="805.5" x2="441.5" y2="805.5" stroke="#222" stroke-width="0.7" />
<rect x="91.8" y="816.45" width="11.8" height="3.85" fill="#b8b8b8" stroke="none" stroke-width="0" />
<line x1="91.8" y1="816.5" x2="103.6" y2="816.5" stroke="#222" stroke-width="0.7" />
<line x1="91.8" y1="820.5" x2="103.6" y2="820.5" stroke="#222" stroke-width="0.7" />
<rect x="429.7" y="816.45" width="11.8" height="3.85" fill="#b8b8b8" stroke="none" stroke-width="0" />
<line x1="429.7" y1="816.5" x2="441.5" y2="816.5" stroke="#222" stroke-width="0.7" />
<line x1="429.7" y1="820.5" x2="441.5" y2="820.5" stroke="#222" stroke-width="0.7" />
<rect x="91.8" y="831.6" width="11.8" height="3.85" fill="#b8b8b8" stroke="none" stroke-width="0" />
<line x1="91.8" y1="831.5" x2="103.6" y2="831.5" stroke="#222" stroke-width="0.7" />
<line x1="91.8" y1="835.5" x2="103.6" y2="835.5" stroke="#222" stroke-width="0.7" />
<rect x="429.7" y="831.6" width="11.8" height="3.85" fill="#b8b8b8" stroke="none" stroke-width="0" />
<line x1="429.7" y1="831.5" x2="441.5" y2="831.5" stroke="#222" stroke-width="0.7" />
<line x1="429.7" y1="835.5" x2="441.5" y2="835.5" stroke="#222" stroke-width="0.7" />
<rect x="91.8" y="846.75" width="11.8" height="3.85" fill="#b8b8b8" stroke="none" stroke-width="0" />
<line x1="91.8" y1="846.5" x2="103.6" y2="846.5" stroke="#222" stroke-width="0.7" />
<line x1="91.8" y1="850.5" x2="103.6" y2="850.5" stroke="#222" stroke-width="0.7" />
<rect x="429.7" y="846.75" width="11.8" height="3.85" fill="#b8b8b8" stroke="none" stroke-width="0" />
<line x1="429.7" y1="846.5" x2="441.5" y2="846.5" stroke="#222" stroke-width="0.7" />
<line x1="429.7" y1="850.5" x2="441.5" y2="850.5" stroke="#222" stroke-width="0.7" />
<rect x="91.8" y="861.9" width="11.8" height="3.85" fill="#b8b8b8" stroke="none" stroke-width="0" />
<line x1="91.8" y1="861.5" x2="103.6" y2="861.5" stroke="#222" stroke-width="0.7" />
<line x1="91.8" y1="865.5" x2="103.6" y2="865.5" stroke="#222" stroke-width="0.7" />
<rect x="429.7" y="861.9" width="11.8" height="3.85" fill="#b8b8b8" stroke="none" stroke-width="0" />
<line x1="429.7" y1="861.5" x2="441.5" y2="861.5" stroke="#222" stroke-width="0.7" />
<line x1="429.7" y1="865.5" x2="441.5" y2="865.5" stroke="#222" stroke-width="0.7" />
<rect x="91.8" y="877.05" width="11.8" height="3.85" fill="#b8b8b8" stroke="none" stroke-width="0" />
<line x1="91.8" y1="877.5" x2="103.6" y2="877.5" stroke="#222" stroke-width="0.7" />
<line x1="91.8" y1="880.5" x2="103.6" y2="880.5" stroke="#222" stroke-width="0.7" />
<rect x="429.7" y="877.05" width="11.8" height="3.85" fill="#b8b8b8" stroke="none" stroke-width="0" />
<line x1="429.7" y1="877.5" x2="441.5" y2="877.5" stroke="#222" stroke-width="0.7" />
<line x1="429.7" y1="880.5" x2="441.5" y2="880.5" stroke="#222" stroke-width="0.7" />
<circle cx="130.8" cy="810.6" r="2.6" fill="#999" stroke="#111" stroke-width="0.8"/>
<circle cx="130.8" cy="871.5" r="2.6" fill="#999" stroke="#111" stroke-width="0.8"/>
<circle cx="403" cy="810.6" r="2.6" fill="#999" stroke="#111" stroke-width="0.8"/>
<circle cx="403" cy="871.5" r="2.6" fill="#999" stroke="#111" stroke-width="0.8"/>
</g>
<defs><pattern id="hatch" width="4.4" height="4.4" patternUnits="userSpaceOnUse" patternTransform="rotate(45)"><rect width="4.4" height="4.4" fill="#fff"/><line x1="0" y1="0" x2="0" y2="4.4" stroke="#999" stroke-width="0.55"/></pattern><pattern id="hatch2" width="2.6" height="2.6" patternUnits="userSpaceOnUse" patternTransform="rotate(45)"><rect width="2.6" height="2.6" fill="#fff"/><line x1="0" y1="0" x2="0" y2="2.6" stroke="#555" stroke-width="0.7"/></pattern><pattern id="xhatch" width="2.2" height="2.2" patternUnits="userSpaceOnUse" patternTransform="rotate(45)"><rect width="2.2" height="2.2" fill="#fff"/><path d="M0 0H2.2M0 0V2.2" stroke="#444" stroke-width="0.6"/></pattern></defs>
<g id="secBL">
<line x1="87.5" y1="1051.5" x2="87.5" y2="1085" stroke="#8a8a8a" stroke-width="1" />
<line x1="430.5" y1="1051.5" x2="430.5" y2="1085" stroke="#8a8a8a" stroke-width="1" />
<line x1="87.2" y1="1054.5" x2="430.3" y2="1054.5" stroke="#8a8a8a" stroke-width="1" />
<polygon points="87.2,1054.9 101.7,1052.3 101.7,1057.5" fill="#262626"/>
<polygon points="430.3,1054.9 415.8,1057.5 415.8,1052.3" fill="#262626"/>
<text transform="translate(261.4 1049.3) rotate(0) skewX(-15) scale(0.8 1)" font-size="16.5" text-anchor="middle" fill="#242424" letter-spacing="0" stroke="#242424" stroke-width="0.3" class="g">B+34</text>
<line x1="430" y1="1085.5" x2="500.6" y2="1085.5" stroke="#8a8a8a" stroke-width="1" />
<line x1="394" y1="1187.5" x2="500.6" y2="1187.5" stroke="#8a8a8a" stroke-width="1" />
<line x1="496.5" y1="1085.5" x2="496.5" y2="1187.4" stroke="#8a8a8a" stroke-width="1" />
<polygon points="496.7,1085.5 499.3,1100 494.1,1100" fill="#262626"/>
<polygon points="496.7,1187.4 494.1,1172.9 499.3,1172.9" fill="#262626"/>
<text transform="translate(490.5 1136.4) rotate(-90) skewX(-15) scale(0.8 1)" font-size="16.5" text-anchor="middle" fill="#242424" letter-spacing="0" stroke="#242424" stroke-width="0.3" class="g">43</text>
<line x1="323.5" y1="1187" x2="323.5" y2="1228.6" stroke="#8a8a8a" stroke-width="1" />
<line x1="348.5" y1="1187" x2="348.5" y2="1228.6" stroke="#8a8a8a" stroke-width="1" />
<line x1="265.3" y1="1226.5" x2="376.9" y2="1226.5" stroke="#8a8a8a" stroke-width="1" />
<polygon points="323.5,1226.2 309,1228.8 309,1223.6" fill="#262626"/>
<polygon points="348.7,1226.2 363.2,1223.6 363.2,1228.8" fill="#262626"/>
<text transform="translate(281.3 1220.2) rotate(0) skewX(-15) scale(0.8 1)" font-size="16.5" text-anchor="middle" fill="#242424" letter-spacing="0" stroke="#242424" stroke-width="0.3" class="g">10,5</text>
<line x1="128.5" y1="1187" x2="128.5" y2="1267.4" stroke="#8a8a8a" stroke-width="1" />
<line x1="390.5" y1="1187" x2="390.5" y2="1267.4" stroke="#8a8a8a" stroke-width="1" />
<line x1="128.5" y1="1264.5" x2="390" y2="1264.5" stroke="#8a8a8a" stroke-width="1" />
<polygon points="128.5,1264 143,1261.4 143,1266.6" fill="#262626"/>
<polygon points="390,1264 375.5,1266.6 375.5,1261.4" fill="#262626"/>
<text transform="translate(258 1258) rotate(0) skewX(-15) scale(0.8 1)" font-size="16.5" text-anchor="middle" fill="#242424" letter-spacing="0" stroke="#242424" stroke-width="0.3" class="g">B</text>
<line x1="57.5" y1="1165.5" x2="57.5" y2="1306.2" stroke="#8a8a8a" stroke-width="1" />
<line x1="459.5" y1="1165.5" x2="459.5" y2="1306.2" stroke="#8a8a8a" stroke-width="1" />
<line x1="57.7" y1="1303.5" x2="459.4" y2="1303.5" stroke="#8a8a8a" stroke-width="1" />
<polygon points="57.7,1303.6 72.2,1301 72.2,1306.2" fill="#262626"/>
<polygon points="459.4,1303.6 444.9,1306.2 444.9,1301" fill="#262626"/>
<text transform="translate(253.2 1296.8) rotate(0) skewX(-15) scale(0.8 1)" font-size="16.5" text-anchor="middle" fill="#242424" letter-spacing="0" stroke="#242424" stroke-width="0.3" class="g">B+59</text>
<polyline points="127.93,1179.79 389.17,1179.79" fill="none" stroke="#161616" stroke-width="1" />
<polyline points="127.93,1181.69 389.17,1181.69" fill="none" stroke="#161616" stroke-width="1" />
<polyline points="100.6,1185.26 416.5,1185.26" fill="none" stroke="#161616" stroke-width="1" />
<polyline points="100.6,1187.63 416.5,1187.63" fill="none" stroke="#161616" stroke-width="1" />
<polygon points="95.13,1084.73 421.97,1084.73 421.97,1102.08 95.13,1102.08" fill="#fff" stroke="#161616" stroke-width="1" />
<polyline points="95.13,1096.62 421.97,1096.62" fill="none" stroke="#161616" stroke-width="0.7" />
<polyline points="94.18,1101.61 422.92,1101.61" fill="none" stroke="#161616" stroke-width="2.2" />
<polygon points="93.71,1085.68 95.61,1085.68 95.61,1102.08 93.71,1102.08" fill="#fff" stroke="#161616" stroke-width="0.7" />
<polygon points="423.39,1085.68 421.49,1085.68 421.49,1102.08 423.39,1102.08" fill="#fff" stroke="#161616" stroke-width="0.7" />
<polygon points="135.06,1141.29 382.04,1141.29 382.04,1172.19 135.06,1172.19" fill="#fff" stroke="#161616" stroke-width="1" />
<path d="M135.06 1141.29 C130.3 1141.29 127.93 1148.42 127.93 1156.74 C127.93 1165.06 130.3 1172.19 135.06 1172.19 " fill="#fff" stroke="#161616" stroke-width="1" />
<polyline points="135.06,1141.29 135.06,1172.19" fill="none" stroke="#161616" stroke-width="1" />
<path d="M382.04 1141.29 C386.8 1141.29 389.17 1148.42 389.17 1156.74 C389.17 1165.06 386.8 1172.19 382.04 1172.19 " fill="#fff" stroke="#161616" stroke-width="1" />
<polyline points="382.04,1141.29 382.04,1172.19" fill="none" stroke="#161616" stroke-width="1" />
<polyline points="123.17,1156.26 393.93,1156.26" fill="none" stroke="#666" stroke-width="0.6" stroke-dasharray="14 2.5 2 2.5"/>
<polygon points="160.25,1137.3 162.85,1137.3 162.85,1174.6 167.75,1187 155.35,1187 160.25,1174.6" fill="url(#hatch)" stroke="#161616" stroke-width="1" />
<polygon points="199.05,1137.3 201.65,1137.3 201.65,1174.6 206.55,1187 194.15,1187 199.05,1174.6" fill="url(#hatch)" stroke="#161616" stroke-width="1" />
<polygon points="237.85,1137.3 240.45,1137.3 240.45,1174.6 245.35,1187 232.95,1187 237.85,1174.6" fill="url(#hatch)" stroke="#161616" stroke-width="1" />
<polygon points="276.65,1137.3 279.25,1137.3 279.25,1174.6 284.15,1187 271.75,1187 276.65,1174.6" fill="url(#hatch)" stroke="#161616" stroke-width="1" />
<polygon points="315.45,1137.3 318.05,1137.3 318.05,1174.6 322.95,1187 310.55,1187 315.45,1174.6" fill="url(#hatch)" stroke="#161616" stroke-width="1" />
<polygon points="354.25,1137.3 356.85,1137.3 356.85,1174.6 361.75,1187 349.35,1187 354.25,1174.6" fill="url(#hatch)" stroke="#161616" stroke-width="1" />
<polyline points="120.32,1102.08 141.24,1121.09 141.24,1175.04" fill="none" stroke="#161616" stroke-width="2.8" stroke-linejoin="miter"/>
<polyline points="120.32,1102.08 141.24,1121.09 141.24,1175.04" fill="none" stroke="#fff" stroke-width="0.7" stroke-linejoin="miter"/>
<polyline points="396.78,1102.08 375.86,1121.09 375.86,1175.04" fill="none" stroke="#161616" stroke-width="2.8" stroke-linejoin="miter"/>
<polyline points="396.78,1102.08 375.86,1121.09 375.86,1175.04" fill="none" stroke="#fff" stroke-width="0.7" stroke-linejoin="miter"/>
<polygon points="87.53,1085.45 91.09,1085.45 91.09,1113.25 87.53,1113.25" fill="url(#hatch)" stroke="#161616" stroke-width="1" />
<polygon points="58.54,1112.78 103.69,1112.78 103.69,1117.53 63.05,1117.53 63.05,1153.17 66.14,1153.17 66.14,1151.99 70.42,1151.99 71.37,1161.49 98.22,1161.49 98.22,1166.25 58.54,1166.25" fill="url(#hatch)" stroke="#161616" stroke-width="1" />
<polygon points="64.71,1166.25 71.37,1166.25 72.56,1171 75.17,1171 75.17,1174.56 68.04,1174.56 66.62,1171" fill="url(#hatch)" stroke="#161616" stroke-width="1" />
<polygon points="91.09,1166.25 98.7,1166.25 98.7,1182.88 95.13,1182.88 95.13,1172.66 91.09,1172.66 88.72,1169.81" fill="url(#hatch)" stroke="#161616" stroke-width="1" />
<polygon points="103.69,1130.6 110.82,1130.6 110.82,1153.17 103.69,1153.17" fill="url(#hatch)" stroke="#161616" stroke-width="1" />
<polygon points="99.41,1102.08 103.69,1102.08 103.69,1134.16 101.31,1134.16 99.41,1130.6 99.41,1123.47 93.47,1123.47 93.47,1119.9 99.41,1119.9" fill="url(#hatch)" stroke="#161616" stroke-width="1" />
<polygon points="110.82,1102.08 115.57,1102.08 115.57,1111.59 119.61,1111.59 119.61,1115.15 115.57,1115.15 115.57,1119.9 119.61,1119.9 119.61,1123.47 115.57,1123.47 115.57,1130.6 110.82,1134.16" fill="url(#hatch)" stroke="#161616" stroke-width="1" />
<polygon points="103.69,1132.26 110.82,1132.26 110.82,1138.92 103.69,1138.92" fill="url(#hatch)" stroke="#161616" stroke-width="1" />
<path d="M111.29 1129.89 C112.48 1122.76 123.17 1120.38 126.98 1127.51 " fill="none" stroke="#161616" stroke-width="3.2" />
<path d="M111.29 1129.89 C112.48 1122.76 123.17 1120.38 126.98 1127.51 " fill="none" stroke="#fff" stroke-width="1.1" />
<path d="M110.82 1134.64 C111.29 1138.92 114.86 1139.87 118.9 1138.92 " fill="none" stroke="#161616" stroke-width="3.2" />
<path d="M110.82 1134.64 C111.29 1138.92 114.86 1139.87 118.9 1138.92 " fill="none" stroke="#fff" stroke-width="1.1" />
<polygon points="104.16,1102.08 110.34,1102.08 110.34,1128.22 104.16,1128.22" fill="#fff" stroke="#161616" stroke-width="1" />
<polygon points="104.64,1118.72 109.87,1118.72 107.25,1125.13" fill="#fff" stroke="#161616" stroke-width="1.3" />
<polyline points="102.74,1103.27 104.16,1104.46 102.74,1105.65" fill="none" stroke="#161616" stroke-width="0.7" />
<polyline points="111.77,1103.27 110.34,1104.46 111.77,1105.65" fill="none" stroke="#161616" stroke-width="0.7" />
<polyline points="102.74,1106.36 104.16,1107.55 102.74,1108.74" fill="none" stroke="#161616" stroke-width="0.7" />
<polyline points="111.77,1106.36 110.34,1107.55 111.77,1108.74" fill="none" stroke="#161616" stroke-width="0.7" />
<polyline points="102.74,1109.45 104.16,1110.64 102.74,1111.83" fill="none" stroke="#161616" stroke-width="0.7" />
<polyline points="111.77,1109.45 110.34,1110.64 111.77,1111.83" fill="none" stroke="#161616" stroke-width="0.7" />
<polyline points="102.74,1112.54 104.16,1113.73 102.74,1114.91" fill="none" stroke="#161616" stroke-width="0.7" />
<polyline points="111.77,1112.54 110.34,1113.73 111.77,1114.91" fill="none" stroke="#161616" stroke-width="0.7" />
<polyline points="102.74,1115.63 104.16,1116.82 102.74,1118" fill="none" stroke="#161616" stroke-width="0.7" />
<polyline points="111.77,1115.63 110.34,1116.82 111.77,1118" fill="none" stroke="#161616" stroke-width="0.7" />
<polyline points="102.74,1118.72 104.16,1119.9 102.74,1121.09" fill="none" stroke="#161616" stroke-width="0.7" />
<polyline points="111.77,1118.72 110.34,1119.9 111.77,1121.09" fill="none" stroke="#161616" stroke-width="0.7" />
<polyline points="102.74,1121.81 104.16,1122.99 102.74,1124.18" fill="none" stroke="#161616" stroke-width="0.7" />
<polyline points="111.77,1121.81 110.34,1122.99 111.77,1124.18" fill="none" stroke="#161616" stroke-width="0.7" />
<polyline points="102.74,1124.9 104.16,1126.08 102.74,1127.27" fill="none" stroke="#161616" stroke-width="0.7" />
<polyline points="111.77,1124.9 110.34,1126.08 111.77,1127.27" fill="none" stroke="#161616" stroke-width="0.7" />
<path d="M99.41 1098.52 C100.6 1092.58 114.14 1092.58 115.57 1098.52 Z " fill="#fff" stroke="#161616" stroke-width="1" />
<polygon points="97.03,1098.52 117.95,1098.52 117.95,1102.08 97.03,1102.08" fill="#fff" stroke="#161616" stroke-width="1" />
<polyline points="107.25,1091.39 107.25,1096.62" fill="none" stroke="#666" stroke-width="0.6" />
<polygon points="94.18,1151.99 123.17,1151.99 123.17,1156.74 94.18,1156.74" fill="url(#hatch)" stroke="#161616" stroke-width="1" />
<polygon points="98.22,1156.74 102.26,1156.74 102.26,1181.69 98.22,1181.69" fill="url(#hatch)" stroke="#161616" stroke-width="1" />
<polygon points="106.54,1156.74 110.82,1156.74 110.82,1178.13 106.54,1178.13" fill="url(#hatch)" stroke="#161616" stroke-width="1" />
<polygon points="102.26,1160.3 106.54,1160.3 106.54,1181.69 102.26,1181.69" fill="url(#xhatch)" stroke="#161616" stroke-width="0.7" />
<path d="M118.42 1156.74 L123.17 1156.74 C123.17 1167.43 124.36 1174.56 127.45 1181.22 L121.99 1186.44 119.61 1184.07 C121.99 1179.32 118.9 1169.81 118.42 1156.74 Z " fill="url(#hatch)" stroke="#161616" stroke-width="1" />
<polygon points="98.7,1181.69 111.29,1181.69 116.05,1185.26 121.99,1186.92 100.6,1187.63 98.7,1185.26" fill="url(#xhatch)" stroke="#161616" stroke-width="0.8" />
<polygon points="429.57,1085.45 426.01,1085.45 426.01,1113.25 429.57,1113.25" fill="url(#hatch)" stroke="#161616" stroke-width="1" />
<polygon points="458.56,1112.78 413.41,1112.78 413.41,1117.53 454.05,1117.53 454.05,1153.17 450.96,1153.17 450.96,1151.99 446.68,1151.99 445.73,1161.49 418.88,1161.49 418.88,1166.25 458.56,1166.25" fill="url(#hatch)" stroke="#161616" stroke-width="1" />
<polygon points="452.39,1166.25 445.73,1166.25 444.54,1171 441.93,1171 441.93,1174.56 449.06,1174.56 450.48,1171" fill="url(#hatch)" stroke="#161616" stroke-width="1" />
<polygon points="426.01,1166.25 418.4,1166.25 418.4,1182.88 421.97,1182.88 421.97,1172.66 426.01,1172.66 428.38,1169.81" fill="url(#hatch)" stroke="#161616" stroke-width="1" />
<polygon points="413.41,1130.6 406.28,1130.6 406.28,1153.17 413.41,1153.17" fill="url(#hatch)" stroke="#161616" stroke-width="1" />
<polygon points="417.69,1102.08 413.41,1102.08 413.41,1134.16 415.79,1134.16 417.69,1130.6 417.69,1123.47 423.63,1123.47 423.63,1119.9 417.69,1119.9" fill="url(#hatch)" stroke="#161616" stroke-width="1" />
<polygon points="406.28,1102.08 401.53,1102.08 401.53,1111.59 397.49,1111.59 397.49,1115.15 401.53,1115.15 401.53,1119.9 397.49,1119.9 397.49,1123.47 401.53,1123.47 401.53,1130.6 406.28,1134.16" fill="url(#hatch)" stroke="#161616" stroke-width="1" />
<polygon points="413.41,1132.26 406.28,1132.26 406.28,1138.92 413.41,1138.92" fill="url(#hatch)" stroke="#161616" stroke-width="1" />
<path d="M405.81 1129.89 C404.62 1122.76 393.93 1120.38 390.12 1127.51 " fill="none" stroke="#161616" stroke-width="3.2" />
<path d="M405.81 1129.89 C404.62 1122.76 393.93 1120.38 390.12 1127.51 " fill="none" stroke="#fff" stroke-width="1.1" />
<path d="M406.28 1134.64 C405.81 1138.92 402.24 1139.87 398.2 1138.92 " fill="none" stroke="#161616" stroke-width="3.2" />
<path d="M406.28 1134.64 C405.81 1138.92 402.24 1139.87 398.2 1138.92 " fill="none" stroke="#fff" stroke-width="1.1" />
<polygon points="412.94,1102.08 406.76,1102.08 406.76,1128.22 412.94,1128.22" fill="#fff" stroke="#161616" stroke-width="1" />
<polygon points="412.46,1118.72 407.23,1118.72 409.85,1125.13" fill="#fff" stroke="#161616" stroke-width="1.3" />
<polyline points="414.36,1103.27 412.94,1104.46 414.36,1105.65" fill="none" stroke="#161616" stroke-width="0.7" />
<polyline points="405.33,1103.27 406.76,1104.46 405.33,1105.65" fill="none" stroke="#161616" stroke-width="0.7" />
<polyline points="414.36,1106.36 412.94,1107.55 414.36,1108.74" fill="none" stroke="#161616" stroke-width="0.7" />
<polyline points="405.33,1106.36 406.76,1107.55 405.33,1108.74" fill="none" stroke="#161616" stroke-width="0.7" />
<polyline points="414.36,1109.45 412.94,1110.64 414.36,1111.83" fill="none" stroke="#161616" stroke-width="0.7" />
<polyline points="405.33,1109.45 406.76,1110.64 405.33,1111.83" fill="none" stroke="#161616" stroke-width="0.7" />
<polyline points="414.36,1112.54 412.94,1113.73 414.36,1114.91" fill="none" stroke="#161616" stroke-width="0.7" />
<polyline points="405.33,1112.54 406.76,1113.73 405.33,1114.91" fill="none" stroke="#161616" stroke-width="0.7" />
<polyline points="414.36,1115.63 412.94,1116.82 414.36,1118" fill="none" stroke="#161616" stroke-width="0.7" />
<polyline points="405.33,1115.63 406.76,1116.82 405.33,1118" fill="none" stroke="#161616" stroke-width="0.7" />
<polyline points="414.36,1118.72 412.94,1119.9 414.36,1121.09" fill="none" stroke="#161616" stroke-width="0.7" />
<polyline points="405.33,1118.72 406.76,1119.9 405.33,1121.09" fill="none" stroke="#161616" stroke-width="0.7" />
<polyline points="414.36,1121.81 412.94,1122.99 414.36,1124.18" fill="none" stroke="#161616" stroke-width="0.7" />
<polyline points="405.33,1121.81 406.76,1122.99 405.33,1124.18" fill="none" stroke="#161616" stroke-width="0.7" />
<polyline points="414.36,1124.9 412.94,1126.08 414.36,1127.27" fill="none" stroke="#161616" stroke-width="0.7" />
<polyline points="405.33,1124.9 406.76,1126.08 405.33,1127.27" fill="none" stroke="#161616" stroke-width="0.7" />
<path d="M417.69 1098.52 C416.5 1092.58 402.96 1092.58 401.53 1098.52 Z " fill="#fff" stroke="#161616" stroke-width="1" />
<polygon points="420.07,1098.52 399.15,1098.52 399.15,1102.08 420.07,1102.08" fill="#fff" stroke="#161616" stroke-width="1" />
<polyline points="409.85,1091.39 409.85,1096.62" fill="none" stroke="#666" stroke-width="0.6" />
<polygon points="422.92,1151.99 393.93,1151.99 393.93,1156.74 422.92,1156.74" fill="url(#hatch)" stroke="#161616" stroke-width="1" />
<polygon points="418.88,1156.74 414.84,1156.74 414.84,1181.69 418.88,1181.69" fill="url(#hatch)" stroke="#161616" stroke-width="1" />
<polygon points="410.56,1156.74 406.28,1156.74 406.28,1178.13 410.56,1178.13" fill="url(#hatch)" stroke="#161616" stroke-width="1" />
<polygon points="414.84,1160.3 410.56,1160.3 410.56,1181.69 414.84,1181.69" fill="url(#xhatch)" stroke="#161616" stroke-width="0.7" />
<path d="M398.68 1156.74 L393.93 1156.74 C393.93 1167.43 392.74 1174.56 389.65 1181.22 L395.11 1186.44 397.49 1184.07 C395.11 1179.32 398.2 1169.81 398.68 1156.74 Z " fill="url(#hatch)" stroke="#161616" stroke-width="1" />
<polygon points="418.4,1181.69 405.81,1181.69 401.05,1185.26 395.11,1186.92 416.5,1187.63 418.4,1185.26" fill="url(#xhatch)" stroke="#161616" stroke-width="0.8" />
</g>
<text transform="translate(709.5 491.7) skewX(-15) scale(0.84 1)" font-size="15" fill="#242424" stroke="#333" stroke-width="0.3" class="g" textLength="161" lengthAdjust="spacing">Сечение решетки</text>
<g>
<text class="h" x="752" y="547.9" font-size="22.6" textLength="67.1" lengthAdjust="spacingAndGlyphs">ARR-F</text>
<line x1="631.5" y1="600.5" x2="631.5" y2="647" stroke="#8a8a8a" stroke-width="1" />
<line x1="921.5" y1="600.5" x2="921.5" y2="622" stroke="#8a8a8a" stroke-width="1" />
<line x1="631.9" y1="603.5" x2="921.8" y2="603.5" stroke="#8a8a8a" stroke-width="1" />
<polygon points="631.9,603.9 646.4,601.3 646.4,606.5" fill="#262626"/>
<polygon points="921.8,603.9 907.3,606.5 907.3,601.3" fill="#262626"/>
<text transform="translate(777 597.7) rotate(0) skewX(-15) scale(0.8 1)" font-size="16.5" text-anchor="middle" fill="#242424" letter-spacing="0" stroke="#242424" stroke-width="0.3" class="g">H</text>
<line x1="921.8" y1="620.5" x2="982.3" y2="620.5" stroke="#8a8a8a" stroke-width="1" />
<line x1="899" y1="708.5" x2="982.3" y2="708.5" stroke="#8a8a8a" stroke-width="1" />
<line x1="979.5" y1="620.9" x2="979.5" y2="708.2" stroke="#8a8a8a" stroke-width="1" />
<polygon points="979.3,620.9 981.9,635.4 976.7,635.4" fill="#262626"/>
<polygon points="979.3,708.2 976.7,693.7 981.9,693.7" fill="#262626"/>
<text transform="translate(973.6 663.5) rotate(-90) skewX(-15) scale(0.8 1)" font-size="16.5" text-anchor="middle" fill="#242424" letter-spacing="0" stroke="#242424" stroke-width="0.3" class="g">43</text>
<line x1="831.5" y1="708" x2="831.5" y2="743" stroke="#8a8a8a" stroke-width="1" />
<line x1="852.5" y1="708" x2="852.5" y2="743" stroke="#8a8a8a" stroke-width="1" />
<line x1="782" y1="740.5" x2="878" y2="740.5" stroke="#8a8a8a" stroke-width="1" />
<polygon points="831.2,740.1 816.7,742.7 816.7,737.5" fill="#262626"/>
<polygon points="852.5,740.1 867,737.5 867,742.7" fill="#262626"/>
<text transform="translate(798 734.4) rotate(0) skewX(-15) scale(0.8 1)" font-size="16.5" text-anchor="middle" fill="#242424" letter-spacing="0" stroke="#242424" stroke-width="0.3" class="g">10,5</text>
<line x1="666.5" y1="708" x2="666.5" y2="769.5" stroke="#8a8a8a" stroke-width="1" />
<line x1="887.5" y1="708" x2="887.5" y2="769.5" stroke="#8a8a8a" stroke-width="1" />
<line x1="666.4" y1="766.5" x2="887.4" y2="766.5" stroke="#8a8a8a" stroke-width="1" />
<polygon points="666.4,766.5 680.9,763.9 680.9,769.1" fill="#262626"/>
<polygon points="887.4,766.5 872.9,769.1 872.9,763.9" fill="#262626"/>
<text transform="translate(776.3 760.6) rotate(0) skewX(-15) scale(0.8 1)" font-size="16.5" text-anchor="middle" fill="#242424" letter-spacing="0" stroke="#242424" stroke-width="0.3" class="g">B</text>
<line x1="606.5" y1="681" x2="606.5" y2="795" stroke="#8a8a8a" stroke-width="1" />
<line x1="947.5" y1="681" x2="947.5" y2="795" stroke="#8a8a8a" stroke-width="1" />
<line x1="606.8" y1="792.5" x2="947" y2="792.5" stroke="#8a8a8a" stroke-width="1" />
<polygon points="606.8,792.1 621.3,789.5 621.3,794.7" fill="#262626"/>
<polygon points="947,792.1 932.5,794.7 932.5,789.5" fill="#262626"/>
<text transform="translate(776.3 786.5) rotate(0) skewX(-15) scale(0.8 1)" font-size="16.5" text-anchor="middle" fill="#242424" letter-spacing="0" stroke="#242424" stroke-width="0.3" class="g">E</text>
<polyline points="644.51,703.6 909.58,703.6" fill="none" stroke="#161616" stroke-width="0.95" />
<polyline points="644.51,705.57 909.58,705.57" fill="none" stroke="#161616" stroke-width="0.95" />
<polyline points="644.51,707.8 909.58,707.8" fill="none" stroke="#161616" stroke-width="0.95" />
<polyline points="664.99,634.7 889.1,634.7" fill="none" stroke="#161616" stroke-width="2.28" />
<polyline points="664.99,634.7 889.1,634.7" fill="none" stroke="#fff" stroke-width="0.57" stroke-dasharray="5 4"/>
<polygon points="690.06,669.66 864.03,669.66 864.03,672.66 690.06,672.66" fill="#fff" stroke="#161616" stroke-width="0.95" />
<polygon points="693.7,665.21 696.27,665.21 696.27,674.46 693.7,674.46" fill="#fff" stroke="#161616" stroke-width="0.95" />
<polygon points="726.52,665.21 729.09,665.21 729.09,674.46 726.52,674.46" fill="#fff" stroke="#161616" stroke-width="0.95" />
<polygon points="759.35,665.21 761.92,665.21 761.92,674.46 759.35,674.46" fill="#fff" stroke="#161616" stroke-width="0.95" />
<polygon points="792.17,665.21 794.74,665.21 794.74,674.46 792.17,674.46" fill="#fff" stroke="#161616" stroke-width="0.95" />
<polygon points="824.99,665.21 827.56,665.21 827.56,674.46 824.99,674.46" fill="#fff" stroke="#161616" stroke-width="0.95" />
<polygon points="857.82,665.21 860.39,665.21 860.39,674.46 857.82,674.46" fill="#fff" stroke="#161616" stroke-width="0.95" />
<polygon points="690.06,675.58 864.03,675.58 864.03,687.92 690.06,687.92" fill="#fff" stroke="#161616" stroke-width="1.09" />
<polyline points="664.35,681.83 889.74,681.83" fill="none" stroke="#777" stroke-width="0.6" stroke-dasharray="12 2.5 2 2.5"/>
<path d="M714.05 677.03 Q711.05 681.75 714.05 686.63" fill="none" stroke="#161616" stroke-width="0.95" />
<polyline points="714.05,677.03 714.05,686.63" fill="none" stroke="#161616" stroke-width="0.95" />
<polyline points="714.05,677.03 690.06,677.03" fill="none" stroke="#161616" stroke-width="0.76" />
<polyline points="714.05,686.63 690.06,686.63" fill="none" stroke="#161616" stroke-width="0.76" />
<path d="M840.03 677.03 Q843.03 681.75 840.03 686.63" fill="none" stroke="#161616" stroke-width="0.95" />
<polyline points="840.03,677.03 840.03,686.63" fill="none" stroke="#161616" stroke-width="0.95" />
<polyline points="840.03,677.03 864.03,677.03" fill="none" stroke="#161616" stroke-width="0.76" />
<polyline points="840.03,686.63 864.03,686.63" fill="none" stroke="#161616" stroke-width="0.76" />
<polygon points="690.06,689.72 864.03,689.72 864.03,694.6 690.06,694.6" fill="url(#hatch2)" stroke="#161616" stroke-width="0.95" />
<polygon points="693.87,689.72 696.1,689.72 696.36,696.32 700.81,706.86 700.81,707.8 689.16,707.8 689.16,706.86 693.61,696.32" fill="url(#hatch)" stroke="#161616" stroke-width="0.95" />
<polygon points="726.69,689.72 728.92,689.72 729.18,696.32 733.64,706.86 733.64,707.8 721.98,707.8 721.98,706.86 726.44,696.32" fill="url(#hatch)" stroke="#161616" stroke-width="0.95" />
<polygon points="759.52,689.72 761.75,689.72 762,696.32 766.46,706.86 766.46,707.8 754.8,707.8 754.8,706.86 759.26,696.32" fill="url(#hatch)" stroke="#161616" stroke-width="0.95" />
<polygon points="792.34,689.72 794.57,689.72 794.83,696.32 799.28,706.86 799.28,707.8 787.63,707.8 787.63,706.86 792.08,696.32" fill="url(#hatch)" stroke="#161616" stroke-width="0.95" />
<polygon points="825.16,689.72 827.39,689.72 827.65,696.32 832.11,706.86 832.11,707.8 820.45,707.8 820.45,706.86 824.91,696.32" fill="url(#hatch)" stroke="#161616" stroke-width="0.95" />
<polygon points="857.99,689.72 860.21,689.72 860.47,696.32 864.93,706.86 864.93,707.8 853.27,707.8 853.27,706.86 857.73,696.32" fill="url(#hatch)" stroke="#161616" stroke-width="0.95" />
<rect x="679.5" y="667.5" width="11" height="28" fill="#fff" stroke="#161616" stroke-width="1.09" rx="1.89"/>
<polygon points="679.94,676.18 675.23,677.72 672.23,680.29 671.72,681.83 672.23,683.38 675.23,685.95 679.94,687.49" fill="#fff" stroke="#161616" stroke-width="0.95" />
<polyline points="675.23,677.72 675.23,685.95" fill="none" stroke="#161616" stroke-width="0.95" />
<polyline points="693.49,672.66 693.49,689.72" fill="none" stroke="#161616" stroke-width="0.95" />
<rect x="864.5" y="667.5" width="10" height="28" fill="#fff" stroke="#161616" stroke-width="1.09" rx="1.89"/>
<polygon points="874.14,676.18 878.85,677.72 881.85,680.29 882.37,681.83 881.85,683.38 878.85,685.95 874.14,687.49" fill="#fff" stroke="#161616" stroke-width="0.95" />
<polyline points="878.85,677.72 878.85,685.95" fill="none" stroke="#161616" stroke-width="0.95" />
<polyline points="860.6,672.66 860.6,689.72" fill="none" stroke="#161616" stroke-width="0.95" />
<polyline points="658.65,634.44 673.13,649.18 673.13,703.17" fill="none" stroke="#161616" stroke-width="2.6" stroke-linejoin="miter"/>
<polyline points="658.65,634.44 673.13,649.18 673.13,703.17" fill="none" stroke="#fff" stroke-width="0.6" stroke-linejoin="miter"/>
<polyline points="661.22,632.38 676.99,648.32 676.99,661.69 701.58,661.69" fill="none" stroke="#161616" stroke-width="2.6" stroke-linejoin="miter"/>
<polyline points="661.22,632.38 676.99,648.32 676.99,661.69 701.58,661.69" fill="none" stroke="#fff" stroke-width="0.6" stroke-linejoin="miter"/>
<polyline points="895.44,634.44 880.95,649.18 880.95,703.17" fill="none" stroke="#161616" stroke-width="2.6" stroke-linejoin="miter"/>
<polyline points="895.44,634.44 880.95,649.18 880.95,703.17" fill="none" stroke="#fff" stroke-width="0.6" stroke-linejoin="miter"/>
<polyline points="892.87,632.38 877.1,648.32 877.1,661.69 852.5,661.69" fill="none" stroke="#161616" stroke-width="2.6" stroke-linejoin="miter"/>
<polyline points="892.87,632.38 877.1,648.32 877.1,661.69 852.5,661.69" fill="none" stroke="#fff" stroke-width="0.6" stroke-linejoin="miter"/>
<polyline points="777.04,623.9 777.04,711.31" fill="none" stroke="#777" stroke-width="0.6" stroke-dasharray="12 2.5 2 2.5"/>
<polygon points="632.36,620.94 635.42,620.94 635.42,644.77 632.36,644.77" fill="url(#hatch)" stroke="#161616" stroke-width="0.95" />
<polygon points="607.52,644.36 646.21,644.36 646.21,648.43 611.39,648.43 611.39,678.98 614.03,678.98 614.03,677.96 617.7,677.96 618.51,686.11 641.53,686.11 641.53,690.18 607.52,690.18" fill="url(#hatch)" stroke="#161616" stroke-width="0.95" />
<polygon points="612.81,690.18 618.51,690.18 619.53,694.26 621.77,694.26 621.77,697.31 615.66,697.31 614.44,694.26" fill="url(#hatch)" stroke="#161616" stroke-width="0.95" />
<polygon points="635.42,690.18 641.94,690.18 641.94,704.44 638.88,704.44 638.88,695.68 635.42,695.68 633.38,693.24" fill="url(#hatch)" stroke="#161616" stroke-width="0.95" />
<polygon points="646.21,659.64 652.32,659.64 652.32,678.98 646.21,678.98" fill="url(#hatch)" stroke="#161616" stroke-width="0.95" />
<polygon points="642.55,635.2 646.21,635.2 646.21,662.69 644.18,662.69 642.55,659.64 642.55,653.53 637.45,653.53 637.45,650.47 642.55,650.47" fill="url(#hatch)" stroke="#161616" stroke-width="0.95" />
<polygon points="652.32,635.2 656.39,635.2 656.39,643.34 659.86,643.34 659.86,646.4 656.39,646.4 656.39,650.47 659.86,650.47 659.86,653.53 656.39,653.53 656.39,659.64 652.32,662.69" fill="url(#hatch)" stroke="#161616" stroke-width="0.95" />
<polygon points="646.21,661.06 652.32,661.06 652.32,666.76 646.21,666.76" fill="url(#hatch)" stroke="#161616" stroke-width="0.95" />
<path d="M652.73 659.02 C653.75 652.91 662.91 650.88 666.17 656.99 " fill="none" stroke="#161616" stroke-width="2.85" />
<path d="M652.73 659.02 C653.75 652.91 662.91 650.88 666.17 656.99 " fill="none" stroke="#fff" stroke-width="0.86" />
<path d="M652.32 663.1 C652.73 666.76 655.78 667.58 659.25 666.76 " fill="none" stroke="#161616" stroke-width="2.85" />
<path d="M652.32 663.1 C652.73 666.76 655.78 667.58 659.25 666.76 " fill="none" stroke="#fff" stroke-width="0.86" />
<polygon points="646.62,635.2 651.91,635.2 651.91,657.6 646.62,657.6" fill="#fff" stroke="#161616" stroke-width="0.95" />
<polygon points="647.03,649.45 651.51,649.45 649.27,654.95" fill="#fff" stroke="#161616" stroke-width="1.23" />
<polyline points="645.4,636.21 646.62,637.23 645.4,638.25" fill="none" stroke="#161616" stroke-width="0.66" />
<polyline points="653.14,636.21 651.91,637.23 653.14,638.25" fill="none" stroke="#161616" stroke-width="0.66" />
<polyline points="645.4,638.86 646.62,639.88 645.4,640.9" fill="none" stroke="#161616" stroke-width="0.66" />
<polyline points="653.14,638.86 651.91,639.88 653.14,640.9" fill="none" stroke="#161616" stroke-width="0.66" />
<polyline points="645.4,641.51 646.62,642.53 645.4,643.55" fill="none" stroke="#161616" stroke-width="0.66" />
<polyline points="653.14,641.51 651.91,642.53 653.14,643.55" fill="none" stroke="#161616" stroke-width="0.66" />
<polyline points="645.4,644.16 646.62,645.18 645.4,646.19" fill="none" stroke="#161616" stroke-width="0.66" />
<polyline points="653.14,644.16 651.91,645.18 653.14,646.19" fill="none" stroke="#161616" stroke-width="0.66" />
<polyline points="645.4,646.8 646.62,647.82 645.4,648.84" fill="none" stroke="#161616" stroke-width="0.66" />
<polyline points="653.14,646.8 651.91,647.82 653.14,648.84" fill="none" stroke="#161616" stroke-width="0.66" />
<polyline points="645.4,649.45 646.62,650.47 645.4,651.49" fill="none" stroke="#161616" stroke-width="0.66" />
<polyline points="653.14,649.45 651.91,650.47 653.14,651.49" fill="none" stroke="#161616" stroke-width="0.66" />
<polyline points="645.4,652.1 646.62,653.12 645.4,654.14" fill="none" stroke="#161616" stroke-width="0.66" />
<polyline points="653.14,652.1 651.91,653.12 653.14,654.14" fill="none" stroke="#161616" stroke-width="0.66" />
<polyline points="645.4,654.75 646.62,655.77 645.4,656.78" fill="none" stroke="#161616" stroke-width="0.66" />
<polyline points="653.14,654.75 651.91,655.77 653.14,656.78" fill="none" stroke="#161616" stroke-width="0.66" />
<path d="M641.12 631.73 C642.14 624.81 654.97 624.81 655.99 631.73 Z " fill="#fff" stroke="#161616" stroke-width="0.95" />
<polyline points="648.55,623.18 648.55,628.07" fill="none" stroke="#666" stroke-width="0.57" />
<polygon points="638.07,677.96 662.91,677.96 662.91,682.04 638.07,682.04" fill="url(#hatch)" stroke="#161616" stroke-width="0.95" />
<polygon points="641.53,682.04 644.99,682.04 644.99,703.42 641.53,703.42" fill="url(#hatch)" stroke="#161616" stroke-width="0.95" />
<polygon points="648.66,682.04 652.32,682.04 652.32,700.37 648.66,700.37" fill="url(#hatch)" stroke="#161616" stroke-width="0.95" />
<polygon points="644.99,685.09 648.66,685.09 648.66,703.42 644.99,703.42" fill="url(#xhatch)" stroke="#161616" stroke-width="0.66" />
<path d="M658.84 682.04 L662.91 682.04 C662.91 691.2 663.93 697.31 666.58 703.01 L661.89 707.5 659.86 705.46 C661.89 701.39 659.25 693.24 658.84 682.04 Z " fill="url(#hatch)" stroke="#161616" stroke-width="0.95" />
<polygon points="641.94,703.42 652.73,703.42 656.8,706.48 661.89,707.9 643.56,708.51 641.94,706.48" fill="url(#xhatch)" stroke="#161616" stroke-width="0.76" />
<polygon points="921.72,620.94 918.67,620.94 918.67,644.77 921.72,644.77" fill="url(#hatch)" stroke="#161616" stroke-width="0.95" />
<polygon points="946.57,644.36 907.87,644.36 907.87,648.43 942.7,648.43 942.7,678.98 940.05,678.98 940.05,677.96 936.39,677.96 935.57,686.11 912.56,686.11 912.56,690.18 946.57,690.18" fill="url(#hatch)" stroke="#161616" stroke-width="0.95" />
<polygon points="941.27,690.18 935.57,690.18 934.55,694.26 932.31,694.26 932.31,697.31 938.42,697.31 939.65,694.26" fill="url(#hatch)" stroke="#161616" stroke-width="0.95" />
<polygon points="918.67,690.18 912.15,690.18 912.15,704.44 915.21,704.44 915.21,695.68 918.67,695.68 920.7,693.24" fill="url(#hatch)" stroke="#161616" stroke-width="0.95" />
<polygon points="907.87,659.64 901.76,659.64 901.76,678.98 907.87,678.98" fill="url(#hatch)" stroke="#161616" stroke-width="0.95" />
<polygon points="911.54,635.2 907.87,635.2 907.87,662.69 909.91,662.69 911.54,659.64 911.54,653.53 916.63,653.53 916.63,650.47 911.54,650.47" fill="url(#hatch)" stroke="#161616" stroke-width="0.95" />
<polygon points="901.76,635.2 897.69,635.2 897.69,643.34 894.23,643.34 894.23,646.4 897.69,646.4 897.69,650.47 894.23,650.47 894.23,653.53 897.69,653.53 897.69,659.64 901.76,662.69" fill="url(#hatch)" stroke="#161616" stroke-width="0.95" />
<polygon points="907.87,661.06 901.76,661.06 901.76,666.76 907.87,666.76" fill="url(#hatch)" stroke="#161616" stroke-width="0.95" />
<path d="M901.36 659.02 C900.34 652.91 891.17 650.88 887.92 656.99 " fill="none" stroke="#161616" stroke-width="2.85" />
<path d="M901.36 659.02 C900.34 652.91 891.17 650.88 887.92 656.99 " fill="none" stroke="#fff" stroke-width="0.86" />
<path d="M901.76 663.1 C901.36 666.76 898.3 667.58 894.84 666.76 " fill="none" stroke="#161616" stroke-width="2.85" />
<path d="M901.76 663.1 C901.36 666.76 898.3 667.58 894.84 666.76 " fill="none" stroke="#fff" stroke-width="0.86" />
<polygon points="907.47,635.2 902.17,635.2 902.17,657.6 907.47,657.6" fill="#fff" stroke="#161616" stroke-width="0.95" />
<polygon points="907.06,649.45 902.58,649.45 904.82,654.95" fill="#fff" stroke="#161616" stroke-width="1.23" />
<polyline points="908.69,636.21 907.47,637.23 908.69,638.25" fill="none" stroke="#161616" stroke-width="0.66" />
<polyline points="900.95,636.21 902.17,637.23 900.95,638.25" fill="none" stroke="#161616" stroke-width="0.66" />
<polyline points="908.69,638.86 907.47,639.88 908.69,640.9" fill="none" stroke="#161616" stroke-width="0.66" />
<polyline points="900.95,638.86 902.17,639.88 900.95,640.9" fill="none" stroke="#161616" stroke-width="0.66" />
<polyline points="908.69,641.51 907.47,642.53 908.69,643.55" fill="none" stroke="#161616" stroke-width="0.66" />
<polyline points="900.95,641.51 902.17,642.53 900.95,643.55" fill="none" stroke="#161616" stroke-width="0.66" />
<polyline points="908.69,644.16 907.47,645.18 908.69,646.19" fill="none" stroke="#161616" stroke-width="0.66" />
<polyline points="900.95,644.16 902.17,645.18 900.95,646.19" fill="none" stroke="#161616" stroke-width="0.66" />
<polyline points="908.69,646.8 907.47,647.82 908.69,648.84" fill="none" stroke="#161616" stroke-width="0.66" />
<polyline points="900.95,646.8 902.17,647.82 900.95,648.84" fill="none" stroke="#161616" stroke-width="0.66" />
<polyline points="908.69,649.45 907.47,650.47 908.69,651.49" fill="none" stroke="#161616" stroke-width="0.66" />
<polyline points="900.95,649.45 902.17,650.47 900.95,651.49" fill="none" stroke="#161616" stroke-width="0.66" />
<polyline points="908.69,652.1 907.47,653.12 908.69,654.14" fill="none" stroke="#161616" stroke-width="0.66" />
<polyline points="900.95,652.1 902.17,653.12 900.95,654.14" fill="none" stroke="#161616" stroke-width="0.66" />
<polyline points="908.69,654.75 907.47,655.77 908.69,656.78" fill="none" stroke="#161616" stroke-width="0.66" />
<polyline points="900.95,654.75 902.17,655.77 900.95,656.78" fill="none" stroke="#161616" stroke-width="0.66" />
<path d="M912.97 631.73 C911.95 624.81 899.12 624.81 898.1 631.73 Z " fill="#fff" stroke="#161616" stroke-width="0.95" />
<polyline points="905.53,623.18 905.53,628.07" fill="none" stroke="#666" stroke-width="0.57" />
<polygon points="916.02,677.96 891.17,677.96 891.17,682.04 916.02,682.04" fill="url(#hatch)" stroke="#161616" stroke-width="0.95" />
<polygon points="912.56,682.04 909.1,682.04 909.1,703.42 912.56,703.42" fill="url(#hatch)" stroke="#161616" stroke-width="0.95" />
<polygon points="905.43,682.04 901.76,682.04 901.76,700.37 905.43,700.37" fill="url(#hatch)" stroke="#161616" stroke-width="0.95" />
<polygon points="909.1,685.09 905.43,685.09 905.43,703.42 909.1,703.42" fill="url(#xhatch)" stroke="#161616" stroke-width="0.66" />
<path d="M895.25 682.04 L891.17 682.04 C891.17 691.2 890.16 697.31 887.51 703.01 L892.19 707.5 894.23 705.46 C892.19 701.39 894.84 693.24 895.25 682.04 Z " fill="url(#hatch)" stroke="#161616" stroke-width="0.95" />
<polygon points="912.15,703.42 901.36,703.42 897.28,706.48 892.19,707.9 910.52,708.51 912.15,706.48" fill="url(#xhatch)" stroke="#161616" stroke-width="0.76" />
<polyline points="637.05,634.44 659.25,634.44" fill="none" stroke="#161616" stroke-width="2.6" stroke-linejoin="miter"/>
<polyline points="637.05,634.44 659.25,634.44" fill="none" stroke="#fff" stroke-width="0.6" stroke-linejoin="miter"/>
<polyline points="637.05,632.38 661.82,632.38" fill="none" stroke="#161616" stroke-width="2.6" stroke-linejoin="miter"/>
<polyline points="637.05,632.38 661.82,632.38" fill="none" stroke="#fff" stroke-width="0.6" stroke-linejoin="miter"/>
<polyline points="917.03,634.44 894.84,634.44" fill="none" stroke="#161616" stroke-width="2.6" stroke-linejoin="miter"/>
<polyline points="917.03,634.44 894.84,634.44" fill="none" stroke="#fff" stroke-width="0.6" stroke-linejoin="miter"/>
<polyline points="917.03,632.38 892.27,632.38" fill="none" stroke="#161616" stroke-width="2.6" stroke-linejoin="miter"/>
<polyline points="917.03,632.38 892.27,632.38" fill="none" stroke="#fff" stroke-width="0.6" stroke-linejoin="miter"/>
</g>
<g>
<text class="h" x="744.9" y="845" font-size="22.6" textLength="83.7" lengthAdjust="spacingAndGlyphs">ARRS-F</text>
<line x1="631.5" y1="895" x2="631.5" y2="941.5" stroke="#8a8a8a" stroke-width="1" />
<line x1="921.5" y1="895" x2="921.5" y2="916.5" stroke="#8a8a8a" stroke-width="1" />
<line x1="631.9" y1="898.5" x2="921.8" y2="898.5" stroke="#8a8a8a" stroke-width="1" />
<polygon points="631.9,898.4 646.4,895.8 646.4,901" fill="#262626"/>
<polygon points="921.8,898.4 907.3,901 907.3,895.8" fill="#262626"/>
<text transform="translate(777 892.2) rotate(0) skewX(-15) scale(0.8 1)" font-size="16.5" text-anchor="middle" fill="#242424" letter-spacing="0" stroke="#242424" stroke-width="0.3" class="g">H</text>
<line x1="921.8" y1="915.5" x2="982.3" y2="915.5" stroke="#8a8a8a" stroke-width="1" />
<line x1="899" y1="1002.5" x2="982.3" y2="1002.5" stroke="#8a8a8a" stroke-width="1" />
<line x1="979.5" y1="915.4" x2="979.5" y2="1002.7" stroke="#8a8a8a" stroke-width="1" />
<polygon points="979.3,915.4 981.9,929.9 976.7,929.9" fill="#262626"/>
<polygon points="979.3,1002.7 976.7,988.2 981.9,988.2" fill="#262626"/>
<text transform="translate(973.6 958) rotate(-90) skewX(-15) scale(0.8 1)" font-size="16.5" text-anchor="middle" fill="#242424" letter-spacing="0" stroke="#242424" stroke-width="0.3" class="g">43</text>
<line x1="831.5" y1="1002.5" x2="831.5" y2="1037.5" stroke="#8a8a8a" stroke-width="1" />
<line x1="852.5" y1="1002.5" x2="852.5" y2="1037.5" stroke="#8a8a8a" stroke-width="1" />
<line x1="782" y1="1034.5" x2="878" y2="1034.5" stroke="#8a8a8a" stroke-width="1" />
<polygon points="831.2,1034.6 816.7,1037.2 816.7,1032" fill="#262626"/>
<polygon points="852.5,1034.6 867,1032 867,1037.2" fill="#262626"/>
<text transform="translate(798 1028.9) rotate(0) skewX(-15) scale(0.8 1)" font-size="16.5" text-anchor="middle" fill="#242424" letter-spacing="0" stroke="#242424" stroke-width="0.3" class="g">10,5</text>
<line x1="666.5" y1="1002.5" x2="666.5" y2="1064" stroke="#8a8a8a" stroke-width="1" />
<line x1="887.5" y1="1002.5" x2="887.5" y2="1064" stroke="#8a8a8a" stroke-width="1" />
<line x1="666.4" y1="1061.5" x2="887.4" y2="1061.5" stroke="#8a8a8a" stroke-width="1" />
<polygon points="666.4,1061 680.9,1058.4 680.9,1063.6" fill="#262626"/>
<polygon points="887.4,1061 872.9,1063.6 872.9,1058.4" fill="#262626"/>
<text transform="translate(776.3 1055.1) rotate(0) skewX(-15) scale(0.8 1)" font-size="16.5" text-anchor="middle" fill="#242424" letter-spacing="0" stroke="#242424" stroke-width="0.3" class="g">B</text>
<line x1="606.5" y1="975.5" x2="606.5" y2="1089.5" stroke="#8a8a8a" stroke-width="1" />
<line x1="947.5" y1="975.5" x2="947.5" y2="1089.5" stroke="#8a8a8a" stroke-width="1" />
<line x1="606.8" y1="1086.5" x2="947" y2="1086.5" stroke="#8a8a8a" stroke-width="1" />
<polygon points="606.8,1086.6 621.3,1084 621.3,1089.2" fill="#262626"/>
<polygon points="947,1086.6 932.5,1089.2 932.5,1084" fill="#262626"/>
<text transform="translate(776.3 1081) rotate(0) skewX(-15) scale(0.8 1)" font-size="16.5" text-anchor="middle" fill="#242424" letter-spacing="0" stroke="#242424" stroke-width="0.3" class="g">E</text>
<polyline points="644.51,998.1 909.58,998.1" fill="none" stroke="#161616" stroke-width="0.95" />
<polyline points="644.51,1000.07 909.58,1000.07" fill="none" stroke="#161616" stroke-width="0.95" />
<polyline points="644.51,1002.3 909.58,1002.3" fill="none" stroke="#161616" stroke-width="0.95" />
<polyline points="664.99,929.2 889.1,929.2" fill="none" stroke="#161616" stroke-width="2.28" />
<polyline points="664.99,929.2 889.1,929.2" fill="none" stroke="#fff" stroke-width="0.57" stroke-dasharray="5 4"/>
<polygon points="690.06,964.16 864.03,964.16 864.03,967.16 690.06,967.16" fill="#fff" stroke="#161616" stroke-width="0.95" />
<polygon points="693.7,959.71 696.27,959.71 696.27,968.96 693.7,968.96" fill="#fff" stroke="#161616" stroke-width="0.95" />
<polygon points="726.52,959.71 729.09,959.71 729.09,968.96 726.52,968.96" fill="#fff" stroke="#161616" stroke-width="0.95" />
<polygon points="759.35,959.71 761.92,959.71 761.92,968.96 759.35,968.96" fill="#fff" stroke="#161616" stroke-width="0.95" />
<polygon points="792.17,959.71 794.74,959.71 794.74,968.96 792.17,968.96" fill="#fff" stroke="#161616" stroke-width="0.95" />
<polygon points="824.99,959.71 827.56,959.71 827.56,968.96 824.99,968.96" fill="#fff" stroke="#161616" stroke-width="0.95" />
<polygon points="857.82,959.71 860.39,959.71 860.39,968.96 857.82,968.96" fill="#fff" stroke="#161616" stroke-width="0.95" />
<polygon points="690.06,970.08 864.03,970.08 864.03,982.42 690.06,982.42" fill="#fff" stroke="#161616" stroke-width="1.09" />
<polyline points="664.35,976.33 889.74,976.33" fill="none" stroke="#777" stroke-width="0.6" stroke-dasharray="12 2.5 2 2.5"/>
<path d="M714.05 971.53 Q711.05 976.25 714.05 981.13" fill="none" stroke="#161616" stroke-width="0.95" />
<polyline points="714.05,971.53 714.05,981.13" fill="none" stroke="#161616" stroke-width="0.95" />
<polyline points="714.05,971.53 690.06,971.53" fill="none" stroke="#161616" stroke-width="0.76" />
<polyline points="714.05,981.13 690.06,981.13" fill="none" stroke="#161616" stroke-width="0.76" />
<path d="M840.03 971.53 Q843.03 976.25 840.03 981.13" fill="none" stroke="#161616" stroke-width="0.95" />
<polyline points="840.03,971.53 840.03,981.13" fill="none" stroke="#161616" stroke-width="0.95" />
<polyline points="840.03,971.53 864.03,971.53" fill="none" stroke="#161616" stroke-width="0.76" />
<polyline points="840.03,981.13 864.03,981.13" fill="none" stroke="#161616" stroke-width="0.76" />
<polygon points="690.06,984.22 864.03,984.22 864.03,989.1 690.06,989.1" fill="url(#hatch2)" stroke="#161616" stroke-width="0.95" />
<polygon points="693.87,984.22 696.1,984.22 696.36,990.82 700.81,1001.36 700.81,1002.3 689.16,1002.3 689.16,1001.36 693.61,990.82" fill="url(#hatch)" stroke="#161616" stroke-width="0.95" />
<polygon points="726.69,984.22 728.92,984.22 729.18,990.82 733.64,1001.36 733.64,1002.3 721.98,1002.3 721.98,1001.36 726.44,990.82" fill="url(#hatch)" stroke="#161616" stroke-width="0.95" />
<polygon points="759.52,984.22 761.75,984.22 762,990.82 766.46,1001.36 766.46,1002.3 754.8,1002.3 754.8,1001.36 759.26,990.82" fill="url(#hatch)" stroke="#161616" stroke-width="0.95" />
<polygon points="792.34,984.22 794.57,984.22 794.83,990.82 799.28,1001.36 799.28,1002.3 787.63,1002.3 787.63,1001.36 792.08,990.82" fill="url(#hatch)" stroke="#161616" stroke-width="0.95" />
<polygon points="825.16,984.22 827.39,984.22 827.65,990.82 832.11,1001.36 832.11,1002.3 820.45,1002.3 820.45,1001.36 824.91,990.82" fill="url(#hatch)" stroke="#161616" stroke-width="0.95" />
<polygon points="857.99,984.22 860.21,984.22 860.47,990.82 864.93,1001.36 864.93,1002.3 853.27,1002.3 853.27,1001.36 857.73,990.82" fill="url(#hatch)" stroke="#161616" stroke-width="0.95" />
<rect x="679.5" y="961.5" width="11" height="29" fill="#fff" stroke="#161616" stroke-width="1.09" rx="1.89"/>
<polygon points="679.94,970.68 675.23,972.22 672.23,974.79 671.72,976.33 672.23,977.88 675.23,980.45 679.94,981.99" fill="#fff" stroke="#161616" stroke-width="0.95" />
<polyline points="675.23,972.22 675.23,980.45" fill="none" stroke="#161616" stroke-width="0.95" />
<polyline points="693.49,967.16 693.49,984.22" fill="none" stroke="#161616" stroke-width="0.95" />
<rect x="864.5" y="961.5" width="10" height="29" fill="#fff" stroke="#161616" stroke-width="1.09" rx="1.89"/>
<polygon points="874.14,970.68 878.85,972.22 881.85,974.79 882.37,976.33 881.85,977.88 878.85,980.45 874.14,981.99" fill="#fff" stroke="#161616" stroke-width="0.95" />
<polyline points="878.85,972.22 878.85,980.45" fill="none" stroke="#161616" stroke-width="0.95" />
<polyline points="860.6,967.16 860.6,984.22" fill="none" stroke="#161616" stroke-width="0.95" />
<polyline points="658.65,928.94 673.13,943.68 673.13,997.67" fill="none" stroke="#161616" stroke-width="2.6" stroke-linejoin="miter"/>
<polyline points="658.65,928.94 673.13,943.68 673.13,997.67" fill="none" stroke="#fff" stroke-width="0.6" stroke-linejoin="miter"/>
<polyline points="661.22,926.88 676.99,942.82 676.99,956.19 701.58,956.19" fill="none" stroke="#161616" stroke-width="2.6" stroke-linejoin="miter"/>
<polyline points="661.22,926.88 676.99,942.82 676.99,956.19 701.58,956.19" fill="none" stroke="#fff" stroke-width="0.6" stroke-linejoin="miter"/>
<polyline points="895.44,928.94 880.95,943.68 880.95,997.67" fill="none" stroke="#161616" stroke-width="2.6" stroke-linejoin="miter"/>
<polyline points="895.44,928.94 880.95,943.68 880.95,997.67" fill="none" stroke="#fff" stroke-width="0.6" stroke-linejoin="miter"/>
<polyline points="892.87,926.88 877.1,942.82 877.1,956.19 852.5,956.19" fill="none" stroke="#161616" stroke-width="2.6" stroke-linejoin="miter"/>
<polyline points="892.87,926.88 877.1,942.82 877.1,956.19 852.5,956.19" fill="none" stroke="#fff" stroke-width="0.6" stroke-linejoin="miter"/>
<polyline points="777.04,918.4 777.04,1005.81" fill="none" stroke="#777" stroke-width="0.6" stroke-dasharray="12 2.5 2 2.5"/>
<polygon points="632.36,915.44 635.42,915.44 635.42,939.27 632.36,939.27" fill="url(#hatch)" stroke="#161616" stroke-width="0.95" />
<polygon points="607.52,938.86 646.21,938.86 646.21,942.93 611.39,942.93 611.39,973.48 614.03,973.48 614.03,972.46 617.7,972.46 618.51,980.61 641.53,980.61 641.53,984.68 607.52,984.68" fill="url(#hatch)" stroke="#161616" stroke-width="0.95" />
<polygon points="612.81,984.68 618.51,984.68 619.53,988.76 621.77,988.76 621.77,991.81 615.66,991.81 614.44,988.76" fill="url(#hatch)" stroke="#161616" stroke-width="0.95" />
<polygon points="635.42,984.68 641.94,984.68 641.94,998.94 638.88,998.94 638.88,990.18 635.42,990.18 633.38,987.74" fill="url(#hatch)" stroke="#161616" stroke-width="0.95" />
<polygon points="646.21,954.14 652.32,954.14 652.32,973.48 646.21,973.48" fill="url(#hatch)" stroke="#161616" stroke-width="0.95" />
<polygon points="642.55,929.7 646.21,929.7 646.21,957.19 644.18,957.19 642.55,954.14 642.55,948.03 637.45,948.03 637.45,944.97 642.55,944.97" fill="url(#hatch)" stroke="#161616" stroke-width="0.95" />
<polygon points="652.32,929.7 656.39,929.7 656.39,937.84 659.86,937.84 659.86,940.9 656.39,940.9 656.39,944.97 659.86,944.97 659.86,948.03 656.39,948.03 656.39,954.14 652.32,957.19" fill="url(#hatch)" stroke="#161616" stroke-width="0.95" />
<polygon points="646.21,955.56 652.32,955.56 652.32,961.26 646.21,961.26" fill="url(#hatch)" stroke="#161616" stroke-width="0.95" />
<path d="M652.73 953.52 C653.75 947.41 662.91 945.38 666.17 951.49 " fill="none" stroke="#161616" stroke-width="2.85" />
<path d="M652.73 953.52 C653.75 947.41 662.91 945.38 666.17 951.49 " fill="none" stroke="#fff" stroke-width="0.86" />
<path d="M652.32 957.6 C652.73 961.26 655.78 962.08 659.25 961.26 " fill="none" stroke="#161616" stroke-width="2.85" />
<path d="M652.32 957.6 C652.73 961.26 655.78 962.08 659.25 961.26 " fill="none" stroke="#fff" stroke-width="0.86" />
<polygon points="646.62,929.7 651.91,929.7 651.91,952.1 646.62,952.1" fill="#fff" stroke="#161616" stroke-width="0.95" />
<polygon points="647.03,943.95 651.51,943.95 649.27,949.45" fill="#fff" stroke="#161616" stroke-width="1.23" />
<polyline points="645.4,930.71 646.62,931.73 645.4,932.75" fill="none" stroke="#161616" stroke-width="0.66" />
<polyline points="653.14,930.71 651.91,931.73 653.14,932.75" fill="none" stroke="#161616" stroke-width="0.66" />
<polyline points="645.4,933.36 646.62,934.38 645.4,935.4" fill="none" stroke="#161616" stroke-width="0.66" />
<polyline points="653.14,933.36 651.91,934.38 653.14,935.4" fill="none" stroke="#161616" stroke-width="0.66" />
<polyline points="645.4,936.01 646.62,937.03 645.4,938.05" fill="none" stroke="#161616" stroke-width="0.66" />
<polyline points="653.14,936.01 651.91,937.03 653.14,938.05" fill="none" stroke="#161616" stroke-width="0.66" />
<polyline points="645.4,938.66 646.62,939.68 645.4,940.69" fill="none" stroke="#161616" stroke-width="0.66" />
<polyline points="653.14,938.66 651.91,939.68 653.14,940.69" fill="none" stroke="#161616" stroke-width="0.66" />
<polyline points="645.4,941.3 646.62,942.32 645.4,943.34" fill="none" stroke="#161616" stroke-width="0.66" />
<polyline points="653.14,941.3 651.91,942.32 653.14,943.34" fill="none" stroke="#161616" stroke-width="0.66" />
<polyline points="645.4,943.95 646.62,944.97 645.4,945.99" fill="none" stroke="#161616" stroke-width="0.66" />
<polyline points="653.14,943.95 651.91,944.97 653.14,945.99" fill="none" stroke="#161616" stroke-width="0.66" />
<polyline points="645.4,946.6 646.62,947.62 645.4,948.64" fill="none" stroke="#161616" stroke-width="0.66" />
<polyline points="653.14,946.6 651.91,947.62 653.14,948.64" fill="none" stroke="#161616" stroke-width="0.66" />
<polyline points="645.4,949.25 646.62,950.27 645.4,951.28" fill="none" stroke="#161616" stroke-width="0.66" />
<polyline points="653.14,949.25 651.91,950.27 653.14,951.28" fill="none" stroke="#161616" stroke-width="0.66" />
<path d="M641.12 926.23 C642.14 919.31 654.97 919.31 655.99 926.23 Z " fill="#fff" stroke="#161616" stroke-width="0.95" />
<polyline points="648.55,917.68 648.55,922.57" fill="none" stroke="#666" stroke-width="0.57" />
<polygon points="638.07,972.46 662.91,972.46 662.91,976.54 638.07,976.54" fill="url(#hatch)" stroke="#161616" stroke-width="0.95" />
<polygon points="641.53,976.54 644.99,976.54 644.99,997.92 641.53,997.92" fill="url(#hatch)" stroke="#161616" stroke-width="0.95" />
<polygon points="648.66,976.54 652.32,976.54 652.32,994.87 648.66,994.87" fill="url(#hatch)" stroke="#161616" stroke-width="0.95" />
<polygon points="644.99,979.59 648.66,979.59 648.66,997.92 644.99,997.92" fill="url(#xhatch)" stroke="#161616" stroke-width="0.66" />
<path d="M658.84 976.54 L662.91 976.54 C662.91 985.7 663.93 991.81 666.58 997.51 L661.89 1002 659.86 999.96 C661.89 995.89 659.25 987.74 658.84 976.54 Z " fill="url(#hatch)" stroke="#161616" stroke-width="0.95" />
<polygon points="641.94,997.92 652.73,997.92 656.8,1000.98 661.89,1002.4 643.56,1003.01 641.94,1000.98" fill="url(#xhatch)" stroke="#161616" stroke-width="0.76" />
<polygon points="921.72,915.44 918.67,915.44 918.67,939.27 921.72,939.27" fill="url(#hatch)" stroke="#161616" stroke-width="0.95" />
<polygon points="946.57,938.86 907.87,938.86 907.87,942.93 942.7,942.93 942.7,973.48 940.05,973.48 940.05,972.46 936.39,972.46 935.57,980.61 912.56,980.61 912.56,984.68 946.57,984.68" fill="url(#hatch)" stroke="#161616" stroke-width="0.95" />
<polygon points="941.27,984.68 935.57,984.68 934.55,988.76 932.31,988.76 932.31,991.81 938.42,991.81 939.65,988.76" fill="url(#hatch)" stroke="#161616" stroke-width="0.95" />
<polygon points="918.67,984.68 912.15,984.68 912.15,998.94 915.21,998.94 915.21,990.18 918.67,990.18 920.7,987.74" fill="url(#hatch)" stroke="#161616" stroke-width="0.95" />
<polygon points="907.87,954.14 901.76,954.14 901.76,973.48 907.87,973.48" fill="url(#hatch)" stroke="#161616" stroke-width="0.95" />
<polygon points="911.54,929.7 907.87,929.7 907.87,957.19 909.91,957.19 911.54,954.14 911.54,948.03 916.63,948.03 916.63,944.97 911.54,944.97" fill="url(#hatch)" stroke="#161616" stroke-width="0.95" />
<polygon points="901.76,929.7 897.69,929.7 897.69,937.84 894.23,937.84 894.23,940.9 897.69,940.9 897.69,944.97 894.23,944.97 894.23,948.03 897.69,948.03 897.69,954.14 901.76,957.19" fill="url(#hatch)" stroke="#161616" stroke-width="0.95" />
<polygon points="907.87,955.56 901.76,955.56 901.76,961.26 907.87,961.26" fill="url(#hatch)" stroke="#161616" stroke-width="0.95" />
<path d="M901.36 953.52 C900.34 947.41 891.17 945.38 887.92 951.49 " fill="none" stroke="#161616" stroke-width="2.85" />
<path d="M901.36 953.52 C900.34 947.41 891.17 945.38 887.92 951.49 " fill="none" stroke="#fff" stroke-width="0.86" />
<path d="M901.76 957.6 C901.36 961.26 898.3 962.08 894.84 961.26 " fill="none" stroke="#161616" stroke-width="2.85" />
<path d="M901.76 957.6 C901.36 961.26 898.3 962.08 894.84 961.26 " fill="none" stroke="#fff" stroke-width="0.86" />
<polygon points="907.47,929.7 902.17,929.7 902.17,952.1 907.47,952.1" fill="#fff" stroke="#161616" stroke-width="0.95" />
<polygon points="907.06,943.95 902.58,943.95 904.82,949.45" fill="#fff" stroke="#161616" stroke-width="1.23" />
<polyline points="908.69,930.71 907.47,931.73 908.69,932.75" fill="none" stroke="#161616" stroke-width="0.66" />
<polyline points="900.95,930.71 902.17,931.73 900.95,932.75" fill="none" stroke="#161616" stroke-width="0.66" />
<polyline points="908.69,933.36 907.47,934.38 908.69,935.4" fill="none" stroke="#161616" stroke-width="0.66" />
<polyline points="900.95,933.36 902.17,934.38 900.95,935.4" fill="none" stroke="#161616" stroke-width="0.66" />
<polyline points="908.69,936.01 907.47,937.03 908.69,938.05" fill="none" stroke="#161616" stroke-width="0.66" />
<polyline points="900.95,936.01 902.17,937.03 900.95,938.05" fill="none" stroke="#161616" stroke-width="0.66" />
<polyline points="908.69,938.66 907.47,939.68 908.69,940.69" fill="none" stroke="#161616" stroke-width="0.66" />
<polyline points="900.95,938.66 902.17,939.68 900.95,940.69" fill="none" stroke="#161616" stroke-width="0.66" />
<polyline points="908.69,941.3 907.47,942.32 908.69,943.34" fill="none" stroke="#161616" stroke-width="0.66" />
<polyline points="900.95,941.3 902.17,942.32 900.95,943.34" fill="none" stroke="#161616" stroke-width="0.66" />
<polyline points="908.69,943.95 907.47,944.97 908.69,945.99" fill="none" stroke="#161616" stroke-width="0.66" />
<polyline points="900.95,943.95 902.17,944.97 900.95,945.99" fill="none" stroke="#161616" stroke-width="0.66" />
<polyline points="908.69,946.6 907.47,947.62 908.69,948.64" fill="none" stroke="#161616" stroke-width="0.66" />
<polyline points="900.95,946.6 902.17,947.62 900.95,948.64" fill="none" stroke="#161616" stroke-width="0.66" />
<polyline points="908.69,949.25 907.47,950.27 908.69,951.28" fill="none" stroke="#161616" stroke-width="0.66" />
<polyline points="900.95,949.25 902.17,950.27 900.95,951.28" fill="none" stroke="#161616" stroke-width="0.66" />
<path d="M912.97 926.23 C911.95 919.31 899.12 919.31 898.1 926.23 Z " fill="#fff" stroke="#161616" stroke-width="0.95" />
<polyline points="905.53,917.68 905.53,922.57" fill="none" stroke="#666" stroke-width="0.57" />
<polygon points="916.02,972.46 891.17,972.46 891.17,976.54 916.02,976.54" fill="url(#hatch)" stroke="#161616" stroke-width="0.95" />
<polygon points="912.56,976.54 909.1,976.54 909.1,997.92 912.56,997.92" fill="url(#hatch)" stroke="#161616" stroke-width="0.95" />
<polygon points="905.43,976.54 901.76,976.54 901.76,994.87 905.43,994.87" fill="url(#hatch)" stroke="#161616" stroke-width="0.95" />
<polygon points="909.1,979.59 905.43,979.59 905.43,997.92 909.1,997.92" fill="url(#xhatch)" stroke="#161616" stroke-width="0.66" />
<path d="M895.25 976.54 L891.17 976.54 C891.17 985.7 890.16 991.81 887.51 997.51 L892.19 1002 894.23 999.96 C892.19 995.89 894.84 987.74 895.25 976.54 Z " fill="url(#hatch)" stroke="#161616" stroke-width="0.95" />
<polygon points="912.15,997.92 901.36,997.92 897.28,1000.98 892.19,1002.4 910.52,1003.01 912.15,1000.98" fill="url(#xhatch)" stroke="#161616" stroke-width="0.76" />
<polyline points="637.05,928.94 659.25,928.94" fill="none" stroke="#161616" stroke-width="2.6" stroke-linejoin="miter"/>
<polyline points="637.05,928.94 659.25,928.94" fill="none" stroke="#fff" stroke-width="0.6" stroke-linejoin="miter"/>
<polyline points="637.05,926.88 661.82,926.88" fill="none" stroke="#161616" stroke-width="2.6" stroke-linejoin="miter"/>
<polyline points="637.05,926.88 661.82,926.88" fill="none" stroke="#fff" stroke-width="0.6" stroke-linejoin="miter"/>
<polyline points="917.03,928.94 894.84,928.94" fill="none" stroke="#161616" stroke-width="2.6" stroke-linejoin="miter"/>
<polyline points="917.03,928.94 894.84,928.94" fill="none" stroke="#fff" stroke-width="0.6" stroke-linejoin="miter"/>
<polyline points="917.03,926.88 892.27,926.88" fill="none" stroke="#161616" stroke-width="2.6" stroke-linejoin="miter"/>
<polyline points="917.03,926.88 892.27,926.88" fill="none" stroke="#fff" stroke-width="0.6" stroke-linejoin="miter"/>
</g>
<g id="secBR">
<polyline points="662.11,1230.3 928.89,1230.3" fill="none" stroke="#161616" stroke-width="0.95" />
<polyline points="662.11,1232.27 928.89,1232.27" fill="none" stroke="#161616" stroke-width="0.95" />
<polyline points="662.11,1234.5 928.89,1234.5" fill="none" stroke="#161616" stroke-width="0.95" />
<polyline points="682.59,1161.4 908.41,1161.4" fill="none" stroke="#161616" stroke-width="2.28" />
<polyline points="682.59,1161.4 908.41,1161.4" fill="none" stroke="#fff" stroke-width="0.57" stroke-dasharray="5 4"/>
<polyline points="691.25,1208.45 899.75,1208.45" fill="none" stroke="#161616" stroke-width="0.95" />
<polyline points="676.25,1161.14 690.73,1175.88 690.73,1229.87" fill="none" stroke="#161616" stroke-width="2.6" stroke-linejoin="miter"/>
<polyline points="676.25,1161.14 690.73,1175.88 690.73,1229.87" fill="none" stroke="#fff" stroke-width="0.6" stroke-linejoin="miter"/>
<polyline points="678.82,1159.08 694.59,1175.02 694.59,1188.39 719.18,1188.39" fill="none" stroke="#161616" stroke-width="2.6" stroke-linejoin="miter"/>
<polyline points="678.82,1159.08 694.59,1175.02 694.59,1188.39 719.18,1188.39" fill="none" stroke="#fff" stroke-width="0.6" stroke-linejoin="miter"/>
<polyline points="914.75,1161.14 900.27,1175.88 900.27,1229.87" fill="none" stroke="#161616" stroke-width="2.6" stroke-linejoin="miter"/>
<polyline points="914.75,1161.14 900.27,1175.88 900.27,1229.87" fill="none" stroke="#fff" stroke-width="0.6" stroke-linejoin="miter"/>
<polyline points="912.18,1159.08 896.41,1175.02 896.41,1188.39 871.82,1188.39" fill="none" stroke="#161616" stroke-width="2.6" stroke-linejoin="miter"/>
<polyline points="912.18,1159.08 896.41,1175.02 896.41,1188.39 871.82,1188.39" fill="none" stroke="#fff" stroke-width="0.6" stroke-linejoin="miter"/>
<polyline points="795.5,1150.6 795.5,1238.01" fill="none" stroke="#777" stroke-width="0.6" stroke-dasharray="12 2.5 2 2.5"/>
<polygon points="649.96,1147.64 653.02,1147.64 653.02,1171.47 649.96,1171.47" fill="url(#hatch)" stroke="#161616" stroke-width="0.95" />
<polygon points="625.12,1171.06 663.81,1171.06 663.81,1175.13 628.99,1175.13 628.99,1205.68 631.63,1205.68 631.63,1204.66 635.3,1204.66 636.11,1212.81 659.13,1212.81 659.13,1216.88 625.12,1216.88" fill="url(#hatch)" stroke="#161616" stroke-width="0.95" />
<polygon points="630.41,1216.88 636.11,1216.88 637.13,1220.96 639.37,1220.96 639.37,1224.01 633.26,1224.01 632.04,1220.96" fill="url(#hatch)" stroke="#161616" stroke-width="0.95" />
<polygon points="653.02,1216.88 659.54,1216.88 659.54,1231.14 656.48,1231.14 656.48,1222.38 653.02,1222.38 650.98,1219.94" fill="url(#hatch)" stroke="#161616" stroke-width="0.95" />
<polygon points="663.81,1186.34 669.92,1186.34 669.92,1205.68 663.81,1205.68" fill="url(#hatch)" stroke="#161616" stroke-width="0.95" />
<polygon points="660.15,1161.9 663.81,1161.9 663.81,1189.39 661.78,1189.39 660.15,1186.34 660.15,1180.23 655.05,1180.23 655.05,1177.17 660.15,1177.17" fill="url(#hatch)" stroke="#161616" stroke-width="0.95" />
<polygon points="669.92,1161.9 673.99,1161.9 673.99,1170.04 677.46,1170.04 677.46,1173.1 673.99,1173.1 673.99,1177.17 677.46,1177.17 677.46,1180.23 673.99,1180.23 673.99,1186.34 669.92,1189.39" fill="url(#hatch)" stroke="#161616" stroke-width="0.95" />
<polygon points="663.81,1187.76 669.92,1187.76 669.92,1193.46 663.81,1193.46" fill="url(#hatch)" stroke="#161616" stroke-width="0.95" />
<path d="M670.33 1185.72 C671.35 1179.61 680.51 1177.58 683.77 1183.69 " fill="none" stroke="#161616" stroke-width="2.85" />
<path d="M670.33 1185.72 C671.35 1179.61 680.51 1177.58 683.77 1183.69 " fill="none" stroke="#fff" stroke-width="0.86" />
<path d="M669.92 1189.8 C670.33 1193.46 673.38 1194.28 676.85 1193.46 " fill="none" stroke="#161616" stroke-width="2.85" />
<path d="M669.92 1189.8 C670.33 1193.46 673.38 1194.28 676.85 1193.46 " fill="none" stroke="#fff" stroke-width="0.86" />
<polygon points="664.22,1161.9 669.51,1161.9 669.51,1184.3 664.22,1184.3" fill="#fff" stroke="#161616" stroke-width="0.95" />
<polygon points="664.63,1176.15 669.11,1176.15 666.87,1181.65" fill="#fff" stroke="#161616" stroke-width="1.23" />
<polyline points="663,1162.91 664.22,1163.93 663,1164.95" fill="none" stroke="#161616" stroke-width="0.66" />
<polyline points="670.74,1162.91 669.51,1163.93 670.74,1164.95" fill="none" stroke="#161616" stroke-width="0.66" />
<polyline points="663,1165.56 664.22,1166.58 663,1167.6" fill="none" stroke="#161616" stroke-width="0.66" />
<polyline points="670.74,1165.56 669.51,1166.58 670.74,1167.6" fill="none" stroke="#161616" stroke-width="0.66" />
<polyline points="663,1168.21 664.22,1169.23 663,1170.25" fill="none" stroke="#161616" stroke-width="0.66" />
<polyline points="670.74,1168.21 669.51,1169.23 670.74,1170.25" fill="none" stroke="#161616" stroke-width="0.66" />
<polyline points="663,1170.86 664.22,1171.88 663,1172.89" fill="none" stroke="#161616" stroke-width="0.66" />
<polyline points="670.74,1170.86 669.51,1171.88 670.74,1172.89" fill="none" stroke="#161616" stroke-width="0.66" />
<polyline points="663,1173.5 664.22,1174.52 663,1175.54" fill="none" stroke="#161616" stroke-width="0.66" />
<polyline points="670.74,1173.5 669.51,1174.52 670.74,1175.54" fill="none" stroke="#161616" stroke-width="0.66" />
<polyline points="663,1176.15 664.22,1177.17 663,1178.19" fill="none" stroke="#161616" stroke-width="0.66" />
<polyline points="670.74,1176.15 669.51,1177.17 670.74,1178.19" fill="none" stroke="#161616" stroke-width="0.66" />
<polyline points="663,1178.8 664.22,1179.82 663,1180.84" fill="none" stroke="#161616" stroke-width="0.66" />
<polyline points="670.74,1178.8 669.51,1179.82 670.74,1180.84" fill="none" stroke="#161616" stroke-width="0.66" />
<polyline points="663,1181.45 664.22,1182.47 663,1183.48" fill="none" stroke="#161616" stroke-width="0.66" />
<polyline points="670.74,1181.45 669.51,1182.47 670.74,1183.48" fill="none" stroke="#161616" stroke-width="0.66" />
<path d="M658.72 1158.43 C659.74 1151.51 672.57 1151.51 673.59 1158.43 Z " fill="#fff" stroke="#161616" stroke-width="0.95" />
<polyline points="666.15,1149.88 666.15,1154.77" fill="none" stroke="#666" stroke-width="0.57" />
<polygon points="655.67,1204.66 680.51,1204.66 680.51,1208.74 655.67,1208.74" fill="url(#hatch)" stroke="#161616" stroke-width="0.95" />
<polygon points="659.13,1208.74 662.59,1208.74 662.59,1230.12 659.13,1230.12" fill="url(#hatch)" stroke="#161616" stroke-width="0.95" />
<polygon points="666.26,1208.74 669.92,1208.74 669.92,1227.07 666.26,1227.07" fill="url(#hatch)" stroke="#161616" stroke-width="0.95" />
<polygon points="662.59,1211.79 666.26,1211.79 666.26,1230.12 662.59,1230.12" fill="url(#xhatch)" stroke="#161616" stroke-width="0.66" />
<path d="M676.44 1208.74 L680.51 1208.74 C680.51 1217.9 681.53 1224.01 684.18 1229.71 L679.49 1234.2 677.46 1232.16 C679.49 1228.09 676.85 1219.94 676.44 1208.74 Z " fill="url(#hatch)" stroke="#161616" stroke-width="0.95" />
<polygon points="659.54,1230.12 670.33,1230.12 674.4,1233.18 679.49,1234.6 661.16,1235.21 659.54,1233.18" fill="url(#xhatch)" stroke="#161616" stroke-width="0.76" />
<polygon points="941.04,1147.64 937.98,1147.64 937.98,1171.47 941.04,1171.47" fill="url(#hatch)" stroke="#161616" stroke-width="0.95" />
<polygon points="965.88,1171.06 927.19,1171.06 927.19,1175.13 962.01,1175.13 962.01,1205.68 959.37,1205.68 959.37,1204.66 955.7,1204.66 954.89,1212.81 931.87,1212.81 931.87,1216.88 965.88,1216.88" fill="url(#hatch)" stroke="#161616" stroke-width="0.95" />
<polygon points="960.59,1216.88 954.89,1216.88 953.87,1220.96 951.63,1220.96 951.63,1224.01 957.74,1224.01 958.96,1220.96" fill="url(#hatch)" stroke="#161616" stroke-width="0.95" />
<polygon points="937.98,1216.88 931.47,1216.88 931.47,1231.14 934.52,1231.14 934.52,1222.38 937.98,1222.38 940.02,1219.94" fill="url(#hatch)" stroke="#161616" stroke-width="0.95" />
<polygon points="927.19,1186.34 921.08,1186.34 921.08,1205.68 927.19,1205.68" fill="url(#hatch)" stroke="#161616" stroke-width="0.95" />
<polygon points="930.85,1161.9 927.19,1161.9 927.19,1189.39 929.22,1189.39 930.85,1186.34 930.85,1180.23 935.95,1180.23 935.95,1177.17 930.85,1177.17" fill="url(#hatch)" stroke="#161616" stroke-width="0.95" />
<polygon points="921.08,1161.9 917.01,1161.9 917.01,1170.04 913.54,1170.04 913.54,1173.1 917.01,1173.1 917.01,1177.17 913.54,1177.17 913.54,1180.23 917.01,1180.23 917.01,1186.34 921.08,1189.39" fill="url(#hatch)" stroke="#161616" stroke-width="0.95" />
<polygon points="927.19,1187.76 921.08,1187.76 921.08,1193.46 927.19,1193.46" fill="url(#hatch)" stroke="#161616" stroke-width="0.95" />
<path d="M920.67 1185.72 C919.65 1179.61 910.49 1177.58 907.23 1183.69 " fill="none" stroke="#161616" stroke-width="2.85" />
<path d="M920.67 1185.72 C919.65 1179.61 910.49 1177.58 907.23 1183.69 " fill="none" stroke="#fff" stroke-width="0.86" />
<path d="M921.08 1189.8 C920.67 1193.46 917.62 1194.28 914.15 1193.46 " fill="none" stroke="#161616" stroke-width="2.85" />
<path d="M921.08 1189.8 C920.67 1193.46 917.62 1194.28 914.15 1193.46 " fill="none" stroke="#fff" stroke-width="0.86" />
<polygon points="926.78,1161.9 921.49,1161.9 921.49,1184.3 926.78,1184.3" fill="#fff" stroke="#161616" stroke-width="0.95" />
<polygon points="926.37,1176.15 921.89,1176.15 924.13,1181.65" fill="#fff" stroke="#161616" stroke-width="1.23" />
<polyline points="928,1162.91 926.78,1163.93 928,1164.95" fill="none" stroke="#161616" stroke-width="0.66" />
<polyline points="920.26,1162.91 921.49,1163.93 920.26,1164.95" fill="none" stroke="#161616" stroke-width="0.66" />
<polyline points="928,1165.56 926.78,1166.58 928,1167.6" fill="none" stroke="#161616" stroke-width="0.66" />
<polyline points="920.26,1165.56 921.49,1166.58 920.26,1167.6" fill="none" stroke="#161616" stroke-width="0.66" />
<polyline points="928,1168.21 926.78,1169.23 928,1170.25" fill="none" stroke="#161616" stroke-width="0.66" />
<polyline points="920.26,1168.21 921.49,1169.23 920.26,1170.25" fill="none" stroke="#161616" stroke-width="0.66" />
<polyline points="928,1170.86 926.78,1171.88 928,1172.89" fill="none" stroke="#161616" stroke-width="0.66" />
<polyline points="920.26,1170.86 921.49,1171.88 920.26,1172.89" fill="none" stroke="#161616" stroke-width="0.66" />
<polyline points="928,1173.5 926.78,1174.52 928,1175.54" fill="none" stroke="#161616" stroke-width="0.66" />
<polyline points="920.26,1173.5 921.49,1174.52 920.26,1175.54" fill="none" stroke="#161616" stroke-width="0.66" />
<polyline points="928,1176.15 926.78,1177.17 928,1178.19" fill="none" stroke="#161616" stroke-width="0.66" />
<polyline points="920.26,1176.15 921.49,1177.17 920.26,1178.19" fill="none" stroke="#161616" stroke-width="0.66" />
<polyline points="928,1178.8 926.78,1179.82 928,1180.84" fill="none" stroke="#161616" stroke-width="0.66" />
<polyline points="920.26,1178.8 921.49,1179.82 920.26,1180.84" fill="none" stroke="#161616" stroke-width="0.66" />
<polyline points="928,1181.45 926.78,1182.47 928,1183.48" fill="none" stroke="#161616" stroke-width="0.66" />
<polyline points="920.26,1181.45 921.49,1182.47 920.26,1183.48" fill="none" stroke="#161616" stroke-width="0.66" />
<path d="M932.28 1158.43 C931.26 1151.51 918.43 1151.51 917.41 1158.43 Z " fill="#fff" stroke="#161616" stroke-width="0.95" />
<polyline points="924.85,1149.88 924.85,1154.77" fill="none" stroke="#666" stroke-width="0.57" />
<polygon points="935.33,1204.66 910.49,1204.66 910.49,1208.74 935.33,1208.74" fill="url(#hatch)" stroke="#161616" stroke-width="0.95" />
<polygon points="931.87,1208.74 928.41,1208.74 928.41,1230.12 931.87,1230.12" fill="url(#hatch)" stroke="#161616" stroke-width="0.95" />
<polygon points="924.74,1208.74 921.08,1208.74 921.08,1227.07 924.74,1227.07" fill="url(#hatch)" stroke="#161616" stroke-width="0.95" />
<polygon points="928.41,1211.79 924.74,1211.79 924.74,1230.12 928.41,1230.12" fill="url(#xhatch)" stroke="#161616" stroke-width="0.66" />
<path d="M914.56 1208.74 L910.49 1208.74 C910.49 1217.9 909.47 1224.01 906.82 1229.71 L911.51 1234.2 913.54 1232.16 C911.51 1228.09 914.15 1219.94 914.56 1208.74 Z " fill="url(#hatch)" stroke="#161616" stroke-width="0.95" />
<polygon points="931.47,1230.12 920.67,1230.12 916.6,1233.18 911.51,1234.6 929.84,1235.21 931.47,1233.18" fill="url(#xhatch)" stroke="#161616" stroke-width="0.76" />
<polyline points="654.65,1161.14 676.85,1161.14" fill="none" stroke="#161616" stroke-width="2.6" stroke-linejoin="miter"/>
<polyline points="654.65,1161.14 676.85,1161.14" fill="none" stroke="#fff" stroke-width="0.6" stroke-linejoin="miter"/>
<polyline points="654.65,1159.08 679.42,1159.08" fill="none" stroke="#161616" stroke-width="2.6" stroke-linejoin="miter"/>
<polyline points="654.65,1159.08 679.42,1159.08" fill="none" stroke="#fff" stroke-width="0.6" stroke-linejoin="miter"/>
<polyline points="936.35,1161.14 914.15,1161.14" fill="none" stroke="#161616" stroke-width="2.6" stroke-linejoin="miter"/>
<polyline points="936.35,1161.14 914.15,1161.14" fill="none" stroke="#fff" stroke-width="0.6" stroke-linejoin="miter"/>
<polyline points="936.35,1159.08 911.58,1159.08" fill="none" stroke="#161616" stroke-width="2.6" stroke-linejoin="miter"/>
<polyline points="936.35,1159.08 911.58,1159.08" fill="none" stroke="#fff" stroke-width="0.6" stroke-linejoin="miter"/>
<polygon points="708.21,1266.83 882.19,1266.83 882.19,1269.83 708.21,1269.83" fill="#fff" stroke="#161616" stroke-width="0.95" />
<polygon points="711.86,1262.37 714.43,1262.37 714.43,1271.63 711.86,1271.63" fill="#fff" stroke="#161616" stroke-width="0.95" />
<polygon points="744.68,1262.37 747.25,1262.37 747.25,1271.63 744.68,1271.63" fill="#fff" stroke="#161616" stroke-width="0.95" />
<polygon points="777.5,1262.37 780.07,1262.37 780.07,1271.63 777.5,1271.63" fill="#fff" stroke="#161616" stroke-width="0.95" />
<polygon points="810.33,1262.37 812.9,1262.37 812.9,1271.63 810.33,1271.63" fill="#fff" stroke="#161616" stroke-width="0.95" />
<polygon points="843.15,1262.37 845.72,1262.37 845.72,1271.63 843.15,1271.63" fill="#fff" stroke="#161616" stroke-width="0.95" />
<polygon points="875.97,1262.37 878.54,1262.37 878.54,1271.63 875.97,1271.63" fill="#fff" stroke="#161616" stroke-width="0.95" />
<polygon points="708.21,1272.74 882.19,1272.74 882.19,1285.08 708.21,1285.08" fill="#fff" stroke="#161616" stroke-width="1.09" />
<polyline points="682.5,1279 907.9,1279" fill="none" stroke="#777" stroke-width="0.6" stroke-dasharray="12 2.5 2 2.5"/>
<path d="M732.21 1274.2 Q729.21 1278.91 732.21 1283.8" fill="none" stroke="#161616" stroke-width="0.95" />
<polyline points="732.21,1274.2 732.21,1283.8" fill="none" stroke="#161616" stroke-width="0.95" />
<polyline points="732.21,1274.2 708.21,1274.2" fill="none" stroke="#161616" stroke-width="0.76" />
<polyline points="732.21,1283.8 708.21,1283.8" fill="none" stroke="#161616" stroke-width="0.76" />
<path d="M858.19 1274.2 Q861.19 1278.91 858.19 1283.8" fill="none" stroke="#161616" stroke-width="0.95" />
<polyline points="858.19,1274.2 858.19,1283.8" fill="none" stroke="#161616" stroke-width="0.95" />
<polyline points="858.19,1274.2 882.19,1274.2" fill="none" stroke="#161616" stroke-width="0.76" />
<polyline points="858.19,1283.8 882.19,1283.8" fill="none" stroke="#161616" stroke-width="0.76" />
<polygon points="708.21,1286.88 882.19,1286.88 882.19,1291.77 708.21,1291.77" fill="url(#hatch2)" stroke="#161616" stroke-width="0.95" />
<polygon points="712.03,1286.88 714.26,1286.88 714.51,1293.48 718.97,1304.02 718.97,1304.97 707.31,1304.97 707.31,1304.02 711.77,1293.48" fill="url(#hatch)" stroke="#161616" stroke-width="0.95" />
<polygon points="744.85,1286.88 747.08,1286.88 747.34,1293.48 751.79,1304.02 751.79,1304.97 740.14,1304.97 740.14,1304.02 744.59,1293.48" fill="url(#hatch)" stroke="#161616" stroke-width="0.95" />
<polygon points="777.67,1286.88 779.9,1286.88 780.16,1293.48 784.62,1304.02 784.62,1304.97 772.96,1304.97 772.96,1304.02 777.42,1293.48" fill="url(#hatch)" stroke="#161616" stroke-width="0.95" />
<polygon points="810.5,1286.88 812.73,1286.88 812.98,1293.48 817.44,1304.02 817.44,1304.97 805.78,1304.97 805.78,1304.02 810.24,1293.48" fill="url(#hatch)" stroke="#161616" stroke-width="0.95" />
<polygon points="843.32,1286.88 845.55,1286.88 845.81,1293.48 850.26,1304.02 850.26,1304.97 838.61,1304.97 838.61,1304.02 843.06,1293.48" fill="url(#hatch)" stroke="#161616" stroke-width="0.95" />
<polygon points="876.14,1286.88 878.37,1286.88 878.63,1293.48 883.09,1304.02 883.09,1304.97 871.43,1304.97 871.43,1304.02 875.89,1293.48" fill="url(#hatch)" stroke="#161616" stroke-width="0.95" />
<rect x="698.5" y="1264.5" width="10" height="29" fill="#fff" stroke="#161616" stroke-width="1.09" rx="1.89"/>
<polygon points="698.1,1273.34 693.39,1274.89 690.39,1277.46 689.87,1279 690.39,1280.54 693.39,1283.11 698.1,1284.66" fill="#fff" stroke="#161616" stroke-width="0.95" />
<polyline points="693.39,1274.89 693.39,1283.11" fill="none" stroke="#161616" stroke-width="0.95" />
<polyline points="711.64,1269.83 711.64,1286.88" fill="none" stroke="#161616" stroke-width="0.95" />
<rect x="882.5" y="1264.5" width="10" height="29" fill="#fff" stroke="#161616" stroke-width="1.09" rx="1.89"/>
<polygon points="892.3,1273.34 897.01,1274.89 900.01,1277.46 900.53,1279 900.01,1280.54 897.01,1283.11 892.3,1284.66" fill="#fff" stroke="#161616" stroke-width="0.95" />
<polyline points="897.01,1274.89 897.01,1283.11" fill="none" stroke="#161616" stroke-width="0.95" />
<polyline points="878.76,1269.83 878.76,1286.88" fill="none" stroke="#161616" stroke-width="0.95" />
</g>
<g id="side">
<line x1="695.5" y1="124" x2="695.5" y2="144.4" stroke="#8a8a8a" stroke-width="1" />
<line x1="900.5" y1="124" x2="900.5" y2="144.4" stroke="#8a8a8a" stroke-width="1" />
<line x1="695.9" y1="127.5" x2="900.8" y2="127.5" stroke="#8a8a8a" stroke-width="1" />
<polygon points="695.9,127 710.4,124.4 710.4,129.6" fill="#262626"/>
<polygon points="900.8,127 886.3,129.6 886.3,124.4" fill="#262626"/>
<text transform="translate(794.8 121.3) rotate(0) skewX(-15) scale(0.8 1)" font-size="16.5" text-anchor="middle" fill="#242424" letter-spacing="0" stroke="#242424" stroke-width="0.3" class="g">B+76</text>
<line x1="595.6" y1="144.5" x2="695.9" y2="144.5" stroke="#8a8a8a" stroke-width="1" />
<line x1="595.6" y1="344.5" x2="695.9" y2="344.5" stroke="#8a8a8a" stroke-width="1" />
<line x1="599.5" y1="144.4" x2="599.5" y2="344.9" stroke="#8a8a8a" stroke-width="1" />
<polygon points="599.2,144.4 601.8,158.9 596.6,158.9" fill="#262626"/>
<polygon points="599.2,344.9 596.6,330.4 601.8,330.4" fill="#262626"/>
<text transform="translate(592.8 248.3) rotate(-90) skewX(-15) scale(0.8 1)" font-size="16.5" text-anchor="middle" fill="#242424" letter-spacing="0" stroke="#242424" stroke-width="0.3" class="g">D+22</text>
<line x1="631" y1="157.5" x2="657" y2="157.5" stroke="#8a8a8a" stroke-width="1" />
<line x1="631" y1="332.5" x2="657" y2="332.5" stroke="#8a8a8a" stroke-width="1" />
<line x1="634.5" y1="157.7" x2="634.5" y2="332.8" stroke="#8a8a8a" stroke-width="1" />
<polygon points="634.9,157.7 637.5,172.2 632.3,172.2" fill="#262626"/>
<polygon points="634.9,332.8 632.3,318.3 637.5,318.3" fill="#262626"/>
<text transform="translate(627.3 230.5) rotate(-90) skewX(-15) scale(0.8 1)" font-size="16.5" text-anchor="middle" fill="#242424" letter-spacing="0" stroke="#242424" stroke-width="0.3" class="g">D</text>
<text transform="translate(626 251.8) rotate(-90)" font-size="27" text-anchor="middle" fill="#858585" style="font-family:'DejaVu Sans','Liberation Sans',sans-serif">⌀</text>
<line x1="631" y1="395.5" x2="983" y2="395.5" stroke="#8a8a8a" stroke-width="1" />
<line x1="634.5" y1="344.9" x2="634.5" y2="395.2" stroke="#8a8a8a" stroke-width="1" />
<polygon points="634.9,344.9 637.5,359.4 632.3,359.4" fill="#262626"/>
<polygon points="634.9,395.2 632.3,380.7 637.5,380.7" fill="#262626"/>
<text transform="translate(629.5 374.3) rotate(-90) skewX(-15) scale(0.8 1)" font-size="16.5" text-anchor="middle" fill="#242424" letter-spacing="0" stroke="#242424" stroke-width="0.3" class="g">46</text>
<line x1="678.5" y1="319.5" x2="678.5" y2="387.6" stroke="#8a8a8a" stroke-width="1" />
<polygon points="678.1,344.9 675.5,330.4 680.7,330.4" fill="#262626"/>
<polygon points="678.1,361.8 680.7,376.3 675.5,376.3" fill="#262626"/>
<line x1="675" y1="361.5" x2="707" y2="361.5" stroke="#8a8a8a" stroke-width="1" />
<text transform="translate(672.5 356.5) rotate(-90) skewX(-15) scale(0.8 1)" font-size="16.5" text-anchor="middle" fill="#242424" letter-spacing="0" stroke="#242424" stroke-width="0.3" class="g">15</text>
<line x1="900.8" y1="144.5" x2="982.4" y2="144.5" stroke="#8a8a8a" stroke-width="1" />
<line x1="978.5" y1="144.4" x2="978.5" y2="395.2" stroke="#8a8a8a" stroke-width="1" />
<polygon points="978.8,144.4 981.4,158.9 976.2,158.9" fill="#262626"/>
<polygon points="978.8,395.2 976.2,380.7 981.4,380.7" fill="#262626"/>
<text transform="translate(975 268.2) rotate(-90) skewX(-15) scale(0.8 1)" font-size="16.5" text-anchor="middle" fill="#242424" letter-spacing="0" stroke="#242424" stroke-width="0.3" class="g">W</text>
<line x1="718.5" y1="306" x2="718.5" y2="357" stroke="#8a8a8a" stroke-width="1" />
<line x1="877.5" y1="306" x2="877.5" y2="357" stroke="#8a8a8a" stroke-width="1" />
<line x1="718.2" y1="309.5" x2="877.2" y2="309.5" stroke="#8a8a8a" stroke-width="1" />
<polygon points="718.2,309.2 732.7,306.6 732.7,311.8" fill="#262626"/>
<polygon points="877.2,309.2 862.7,311.8 862.7,306.6" fill="#262626"/>
<text transform="translate(794.8 304) rotate(0) skewX(-15) scale(0.8 1)" font-size="16.5" text-anchor="middle" fill="#242424" letter-spacing="0" stroke="#242424" stroke-width="0.3" class="g">B+35</text>
<line x1="651.3" y1="150.6" x2="695.9" y2="150.6" stroke="#333" stroke-width="2" />
<line x1="900.8" y1="150.6" x2="944.5" y2="150.6" stroke="#333" stroke-width="2" />
<line x1="695.1" y1="150" x2="695.1" y2="158" stroke="#333" stroke-width="1.6" />
<line x1="901.4" y1="150" x2="901.4" y2="186" stroke="#333" stroke-width="1.8" />
<rect x="657.5" y="157.5" width="38" height="175" fill="none" stroke="#161616" stroke-width="0.8" />
<line x1="651" y1="244.5" x2="701.7" y2="244.5" stroke="#333" stroke-width="0.5" stroke-dasharray="12 2.5 2 2.5"/>
<rect x="695.5" y="144.5" width="205" height="200" fill="none" stroke="#161616" stroke-width="1" />
<line x1="695.9" y1="335.5" x2="900.8" y2="335.5" stroke="#161616" stroke-width="0.7" />
<line x1="695.9" y1="336.5" x2="900.8" y2="336.5" stroke="#161616" stroke-width="0.5" />
<rect x="718.5" y="344.5" width="159" height="15" fill="none" stroke="#161616" stroke-width="0.8" />
<line x1="718" y1="348.5" x2="877.7" y2="348.5" stroke="#161616" stroke-width="0.6" />
<line x1="720.5" y1="344.9" x2="720.5" y2="359.2" stroke="#161616" stroke-width="0.6" />
<line x1="875.5" y1="344.9" x2="875.5" y2="359.2" stroke="#161616" stroke-width="0.6" />
<line x1="761.5" y1="329.5" x2="761.5" y2="360.4" stroke="#161616" stroke-width="0.7" />
<line x1="760.3" y1="331.5" x2="762.7" y2="331.5" stroke="#161616" stroke-width="0.6" />
<rect x="760.5" y="333.5" width="2" height="2" fill="#ddd" stroke="#161616" stroke-width="0.5" />
<rect x="760.5" y="344.5" width="2" height="2" fill="#ddd" stroke="#161616" stroke-width="0.5" />
<rect x="760.5" y="358.5" width="2" height="2" fill="#ddd" stroke="#161616" stroke-width="0.5" />
<line x1="833.5" y1="329.5" x2="833.5" y2="360.4" stroke="#161616" stroke-width="0.7" />
<line x1="832.1" y1="331.5" x2="834.5" y2="331.5" stroke="#161616" stroke-width="0.6" />
<rect x="831.5" y="333.5" width="3" height="2" fill="#ddd" stroke="#161616" stroke-width="0.5" />
<rect x="831.5" y="344.5" width="3" height="2" fill="#ddd" stroke="#161616" stroke-width="0.5" />
<rect x="831.5" y="358.5" width="3" height="2" fill="#ddd" stroke="#161616" stroke-width="0.5" />
<line x1="733.5" y1="362.5" x2="862.5" y2="362.5" stroke="#161616" stroke-width="0.7" />
<line x1="733.5" y1="364.5" x2="862.5" y2="364.5" stroke="#161616" stroke-width="0.7" />
<line x1="736" y1="367.5" x2="860" y2="367.5" stroke="#161616" stroke-width="0.7" />
<line x1="736" y1="369.5" x2="860" y2="369.5" stroke="#161616" stroke-width="0.7" />
<polyline points="737.48,391.96 858.31,391.96" fill="none" stroke="#161616" stroke-width="0.7" />
<polyline points="737.48,392.84 858.31,392.84" fill="none" stroke="#161616" stroke-width="0.7" />
<polyline points="724.84,394.48 870.95,394.48" fill="none" stroke="#161616" stroke-width="0.7" />
<polyline points="724.84,395.58 870.95,395.58" fill="none" stroke="#161616" stroke-width="0.7" />
<polygon points="722.31,347.99 873.47,347.99 873.47,356.02 722.31,356.02" fill="#fff" stroke="#161616" stroke-width="0.7" />
<polyline points="722.31,353.49 873.47,353.49" fill="none" stroke="#161616" stroke-width="0.49" />
<polyline points="721.87,355.8 873.91,355.8" fill="none" stroke="#161616" stroke-width="1.54" />
<polygon points="721.65,348.43 722.53,348.43 722.53,356.02 721.65,356.02" fill="#fff" stroke="#161616" stroke-width="0.49" />
<polygon points="874.13,348.43 873.25,348.43 873.25,356.02 874.13,356.02" fill="#fff" stroke="#161616" stroke-width="0.49" />
<polygon points="740.78,374.15 855.01,374.15 855.01,388.44 740.78,388.44" fill="#fff" stroke="#161616" stroke-width="0.7" />
<path d="M740.78 374.15 C738.58 374.15 737.48 377.45 737.48 381.29 C737.48 385.14 738.58 388.44 740.78 388.44 " fill="#fff" stroke="#161616" stroke-width="0.7" />
<polyline points="740.78,374.15 740.78,388.44" fill="none" stroke="#161616" stroke-width="0.7" />
<path d="M855.01 374.15 C857.21 374.15 858.31 377.45 858.31 381.29 C858.31 385.14 857.21 388.44 855.01 388.44 " fill="#fff" stroke="#161616" stroke-width="0.7" />
<polyline points="855.01,374.15 855.01,388.44" fill="none" stroke="#161616" stroke-width="0.7" />
<polyline points="735.28,381.07 860.5,381.07" fill="none" stroke="#666" stroke-width="0.6" stroke-dasharray="14 2.5 2 2.5"/>
<polygon points="752.43,372.3 753.63,372.3 753.63,389.56 755.9,395.29 750.16,395.29 752.43,389.56" fill="url(#hatch)" stroke="#161616" stroke-width="0.7" />
<polygon points="770.37,372.3 771.58,372.3 771.58,389.56 773.84,395.29 768.11,395.29 770.37,389.56" fill="url(#hatch)" stroke="#161616" stroke-width="0.7" />
<polygon points="788.32,372.3 789.52,372.3 789.52,389.56 791.79,395.29 786.05,395.29 788.32,389.56" fill="url(#hatch)" stroke="#161616" stroke-width="0.7" />
<polygon points="806.26,372.3 807.47,372.3 807.47,389.56 809.73,395.29 804,395.29 806.26,389.56" fill="url(#hatch)" stroke="#161616" stroke-width="0.7" />
<polygon points="824.21,372.3 825.41,372.3 825.41,389.56 827.68,395.29 821.94,395.29 824.21,389.56" fill="url(#hatch)" stroke="#161616" stroke-width="0.7" />
<polygon points="842.15,372.3 843.36,372.3 843.36,389.56 845.62,395.29 839.89,395.29 842.15,389.56" fill="url(#hatch)" stroke="#161616" stroke-width="0.7" />
<polyline points="733.96,356.02 743.64,364.81 743.64,389.76" fill="none" stroke="#161616" stroke-width="1.58" stroke-linejoin="miter"/>
<polyline points="733.96,356.02 743.64,364.81 743.64,389.76" fill="none" stroke="#fff" stroke-width="0.3" stroke-linejoin="miter"/>
<polyline points="861.82,356.02 852.15,364.81 852.15,389.76" fill="none" stroke="#161616" stroke-width="1.58" stroke-linejoin="miter"/>
<polyline points="861.82,356.02 852.15,364.81 852.15,389.76" fill="none" stroke="#fff" stroke-width="0.3" stroke-linejoin="miter"/>
<polygon points="718.8,348.32 720.44,348.32 720.44,361.18 718.8,361.18" fill="url(#hatch)" stroke="#161616" stroke-width="0.7" />
<polygon points="705.39,360.96 726.27,360.96 726.27,363.16 707.47,363.16 707.47,379.65 708.9,379.65 708.9,379.1 710.88,379.1 711.32,383.49 723.74,383.49 723.74,385.69 705.39,385.69" fill="url(#hatch)" stroke="#161616" stroke-width="0.7" />
<polygon points="708.24,385.69 711.32,385.69 711.87,387.89 713.08,387.89 713.08,389.54 709.78,389.54 709.12,387.89" fill="url(#hatch)" stroke="#161616" stroke-width="0.7" />
<polygon points="720.44,385.69 723.96,385.69 723.96,393.38 722.31,393.38 722.31,388.66 720.44,388.66 719.35,387.34" fill="url(#hatch)" stroke="#161616" stroke-width="0.7" />
<polygon points="726.27,369.2 729.57,369.2 729.57,379.65 726.27,379.65" fill="url(#hatch)" stroke="#161616" stroke-width="0.7" />
<polygon points="724.29,356.02 726.27,356.02 726.27,370.85 725.17,370.85 724.29,369.2 724.29,365.91 721.54,365.91 721.54,364.26 724.29,364.26" fill="url(#hatch)" stroke="#161616" stroke-width="0.7" />
<polygon points="729.57,356.02 731.77,356.02 731.77,360.41 733.63,360.41 733.63,362.06 731.77,362.06 731.77,364.26 733.63,364.26 733.63,365.91 731.77,365.91 731.77,369.2 729.57,370.85" fill="url(#hatch)" stroke="#161616" stroke-width="0.7" />
<polygon points="726.27,369.97 729.57,369.97 729.57,373.05 726.27,373.05" fill="url(#hatch)" stroke="#161616" stroke-width="0.7" />
<path d="M729.79 368.87 C730.34 365.58 735.28 364.48 737.04 367.78 " fill="none" stroke="#161616" stroke-width="1.77" />
<path d="M729.79 368.87 C730.34 365.58 735.28 364.48 737.04 367.78 " fill="none" stroke="#fff" stroke-width="0.3" />
<path d="M729.57 371.07 C729.79 373.05 731.44 373.49 733.3 373.05 " fill="none" stroke="#161616" stroke-width="1.77" />
<path d="M729.57 371.07 C729.79 373.05 731.44 373.49 733.3 373.05 " fill="none" stroke="#fff" stroke-width="0.3" />
<polygon points="726.49,356.02 729.35,356.02 729.35,368.11 726.49,368.11" fill="#fff" stroke="#161616" stroke-width="0.7" />
<polygon points="726.71,363.71 729.13,363.71 727.92,366.68" fill="#fff" stroke="#161616" stroke-width="0.91" />
<polyline points="725.83,356.56 726.49,357.11 725.83,357.66" fill="none" stroke="#161616" stroke-width="0.49" />
<polyline points="730.01,356.56 729.35,357.11 730.01,357.66" fill="none" stroke="#161616" stroke-width="0.49" />
<polyline points="725.83,357.99 726.49,358.54 725.83,359.09" fill="none" stroke="#161616" stroke-width="0.49" />
<polyline points="730.01,357.99 729.35,358.54 730.01,359.09" fill="none" stroke="#161616" stroke-width="0.49" />
<polyline points="725.83,359.42 726.49,359.97 725.83,360.52" fill="none" stroke="#161616" stroke-width="0.49" />
<polyline points="730.01,359.42 729.35,359.97 730.01,360.52" fill="none" stroke="#161616" stroke-width="0.49" />
<polyline points="725.83,360.85 726.49,361.4 725.83,361.95" fill="none" stroke="#161616" stroke-width="0.49" />
<polyline points="730.01,360.85 729.35,361.4 730.01,361.95" fill="none" stroke="#161616" stroke-width="0.49" />
<polyline points="725.83,362.28 726.49,362.83 725.83,363.38" fill="none" stroke="#161616" stroke-width="0.49" />
<polyline points="730.01,362.28 729.35,362.83 730.01,363.38" fill="none" stroke="#161616" stroke-width="0.49" />
<polyline points="725.83,363.71 726.49,364.26 725.83,364.81" fill="none" stroke="#161616" stroke-width="0.49" />
<polyline points="730.01,363.71 729.35,364.26 730.01,364.81" fill="none" stroke="#161616" stroke-width="0.49" />
<polyline points="725.83,365.14 726.49,365.69 725.83,366.24" fill="none" stroke="#161616" stroke-width="0.49" />
<polyline points="730.01,365.14 729.35,365.69 730.01,366.24" fill="none" stroke="#161616" stroke-width="0.49" />
<polyline points="725.83,366.57 726.49,367.12 725.83,367.67" fill="none" stroke="#161616" stroke-width="0.49" />
<polyline points="730.01,366.57 729.35,367.12 730.01,367.67" fill="none" stroke="#161616" stroke-width="0.49" />
<path d="M724.29 354.37 C724.84 351.62 731.11 351.62 731.77 354.37 Z " fill="#fff" stroke="#161616" stroke-width="0.7" />
<polygon points="723.19,354.37 732.86,354.37 732.86,356.02 723.19,356.02" fill="#fff" stroke="#161616" stroke-width="0.7" />
<polyline points="727.92,351.07 727.92,353.49" fill="none" stroke="#666" stroke-width="0.42" />
<polygon points="721.87,379.1 735.28,379.1 735.28,381.29 721.87,381.29" fill="url(#hatch)" stroke="#161616" stroke-width="0.7" />
<polygon points="723.74,381.29 725.61,381.29 725.61,392.84 723.74,392.84" fill="url(#hatch)" stroke="#161616" stroke-width="0.7" />
<polygon points="727.59,381.29 729.57,381.29 729.57,391.19 727.59,391.19" fill="url(#hatch)" stroke="#161616" stroke-width="0.7" />
<polygon points="725.61,382.94 727.59,382.94 727.59,392.84 725.61,392.84" fill="url(#xhatch)" stroke="#161616" stroke-width="0.49" />
<path d="M733.08 381.29 L735.28 381.29 C735.28 386.24 735.83 389.54 737.26 392.62 L734.73 395.03 733.63 393.93 C734.73 391.74 733.3 387.34 733.08 381.29 Z " fill="url(#hatch)" stroke="#161616" stroke-width="0.7" />
<polygon points="723.96,392.84 729.79,392.84 731.98,394.48 734.73,395.25 724.84,395.58 723.96,394.48" fill="url(#xhatch)" stroke="#161616" stroke-width="0.56" />
<polygon points="876.99,348.32 875.34,348.32 875.34,361.18 876.99,361.18" fill="url(#hatch)" stroke="#161616" stroke-width="0.7" />
<polygon points="890.4,360.96 869.52,360.96 869.52,363.16 888.31,363.16 888.31,379.65 886.88,379.65 886.88,379.1 884.9,379.1 884.46,383.49 872.04,383.49 872.04,385.69 890.4,385.69" fill="url(#hatch)" stroke="#161616" stroke-width="0.7" />
<polygon points="887.54,385.69 884.46,385.69 883.91,387.89 882.71,387.89 882.71,389.54 886,389.54 886.66,387.89" fill="url(#hatch)" stroke="#161616" stroke-width="0.7" />
<polygon points="875.34,385.69 871.82,385.69 871.82,393.38 873.47,393.38 873.47,388.66 875.34,388.66 876.44,387.34" fill="url(#hatch)" stroke="#161616" stroke-width="0.7" />
<polygon points="869.52,369.2 866.22,369.2 866.22,379.65 869.52,379.65" fill="url(#hatch)" stroke="#161616" stroke-width="0.7" />
<polygon points="871.5,356.02 869.52,356.02 869.52,370.85 870.62,370.85 871.5,369.2 871.5,365.91 874.24,365.91 874.24,364.26 871.5,364.26" fill="url(#hatch)" stroke="#161616" stroke-width="0.7" />
<polygon points="866.22,356.02 864.02,356.02 864.02,360.41 862.15,360.41 862.15,362.06 864.02,362.06 864.02,364.26 862.15,364.26 862.15,365.91 864.02,365.91 864.02,369.2 866.22,370.85" fill="url(#hatch)" stroke="#161616" stroke-width="0.7" />
<polygon points="869.52,369.97 866.22,369.97 866.22,373.05 869.52,373.05" fill="url(#hatch)" stroke="#161616" stroke-width="0.7" />
<path d="M866 368.87 C865.45 365.58 860.5 364.48 858.75 367.78 " fill="none" stroke="#161616" stroke-width="1.77" />
<path d="M866 368.87 C865.45 365.58 860.5 364.48 858.75 367.78 " fill="none" stroke="#fff" stroke-width="0.3" />
<path d="M866.22 371.07 C866 373.05 864.35 373.49 862.48 373.05 " fill="none" stroke="#161616" stroke-width="1.77" />
<path d="M866.22 371.07 C866 373.05 864.35 373.49 862.48 373.05 " fill="none" stroke="#fff" stroke-width="0.3" />
<polygon points="869.3,356.02 866.44,356.02 866.44,368.11 869.3,368.11" fill="#fff" stroke="#161616" stroke-width="0.7" />
<polygon points="869.08,363.71 866.66,363.71 867.87,366.68" fill="#fff" stroke="#161616" stroke-width="0.91" />
<polyline points="869.96,356.56 869.3,357.11 869.96,357.66" fill="none" stroke="#161616" stroke-width="0.49" />
<polyline points="865.78,356.56 866.44,357.11 865.78,357.66" fill="none" stroke="#161616" stroke-width="0.49" />
<polyline points="869.96,357.99 869.3,358.54 869.96,359.09" fill="none" stroke="#161616" stroke-width="0.49" />
<polyline points="865.78,357.99 866.44,358.54 865.78,359.09" fill="none" stroke="#161616" stroke-width="0.49" />
<polyline points="869.96,359.42 869.3,359.97 869.96,360.52" fill="none" stroke="#161616" stroke-width="0.49" />
<polyline points="865.78,359.42 866.44,359.97 865.78,360.52" fill="none" stroke="#161616" stroke-width="0.49" />
<polyline points="869.96,360.85 869.3,361.4 869.96,361.95" fill="none" stroke="#161616" stroke-width="0.49" />
<polyline points="865.78,360.85 866.44,361.4 865.78,361.95" fill="none" stroke="#161616" stroke-width="0.49" />
<polyline points="869.96,362.28 869.3,362.83 869.96,363.38" fill="none" stroke="#161616" stroke-width="0.49" />
<polyline points="865.78,362.28 866.44,362.83 865.78,363.38" fill="none" stroke="#161616" stroke-width="0.49" />
<polyline points="869.96,363.71 869.3,364.26 869.96,364.81" fill="none" stroke="#161616" stroke-width="0.49" />
<polyline points="865.78,363.71 866.44,364.26 865.78,364.81" fill="none" stroke="#161616" stroke-width="0.49" />
<polyline points="869.96,365.14 869.3,365.69 869.96,366.24" fill="none" stroke="#161616" stroke-width="0.49" />
<polyline points="865.78,365.14 866.44,365.69 865.78,366.24" fill="none" stroke="#161616" stroke-width="0.49" />
<polyline points="869.96,366.57 869.3,367.12 869.96,367.67" fill="none" stroke="#161616" stroke-width="0.49" />
<polyline points="865.78,366.57 866.44,367.12 865.78,367.67" fill="none" stroke="#161616" stroke-width="0.49" />
<path d="M871.5 354.37 C870.95 351.62 864.68 351.62 864.02 354.37 Z " fill="#fff" stroke="#161616" stroke-width="0.7" />
<polygon points="872.59,354.37 862.92,354.37 862.92,356.02 872.59,356.02" fill="#fff" stroke="#161616" stroke-width="0.7" />
<polyline points="867.87,351.07 867.87,353.49" fill="none" stroke="#666" stroke-width="0.42" />
<polygon points="873.91,379.1 860.5,379.1 860.5,381.29 873.91,381.29" fill="url(#hatch)" stroke="#161616" stroke-width="0.7" />
<polygon points="872.04,381.29 870.18,381.29 870.18,392.84 872.04,392.84" fill="url(#hatch)" stroke="#161616" stroke-width="0.7" />
<polygon points="868.2,381.29 866.22,381.29 866.22,391.19 868.2,391.19" fill="url(#hatch)" stroke="#161616" stroke-width="0.7" />
<polygon points="870.18,382.94 868.2,382.94 868.2,392.84 870.18,392.84" fill="url(#xhatch)" stroke="#161616" stroke-width="0.49" />
<path d="M862.7 381.29 L860.5 381.29 C860.5 386.24 859.95 389.54 858.53 392.62 L861.05 395.03 862.15 393.93 C861.05 391.74 862.48 387.34 862.7 381.29 Z " fill="url(#hatch)" stroke="#161616" stroke-width="0.7" />
<polygon points="871.82,392.84 866,392.84 863.8,394.48 861.05,395.25 870.95,395.58 871.82,394.48" fill="url(#xhatch)" stroke="#161616" stroke-width="0.56" />
</g>
</svg>
</body></html>
